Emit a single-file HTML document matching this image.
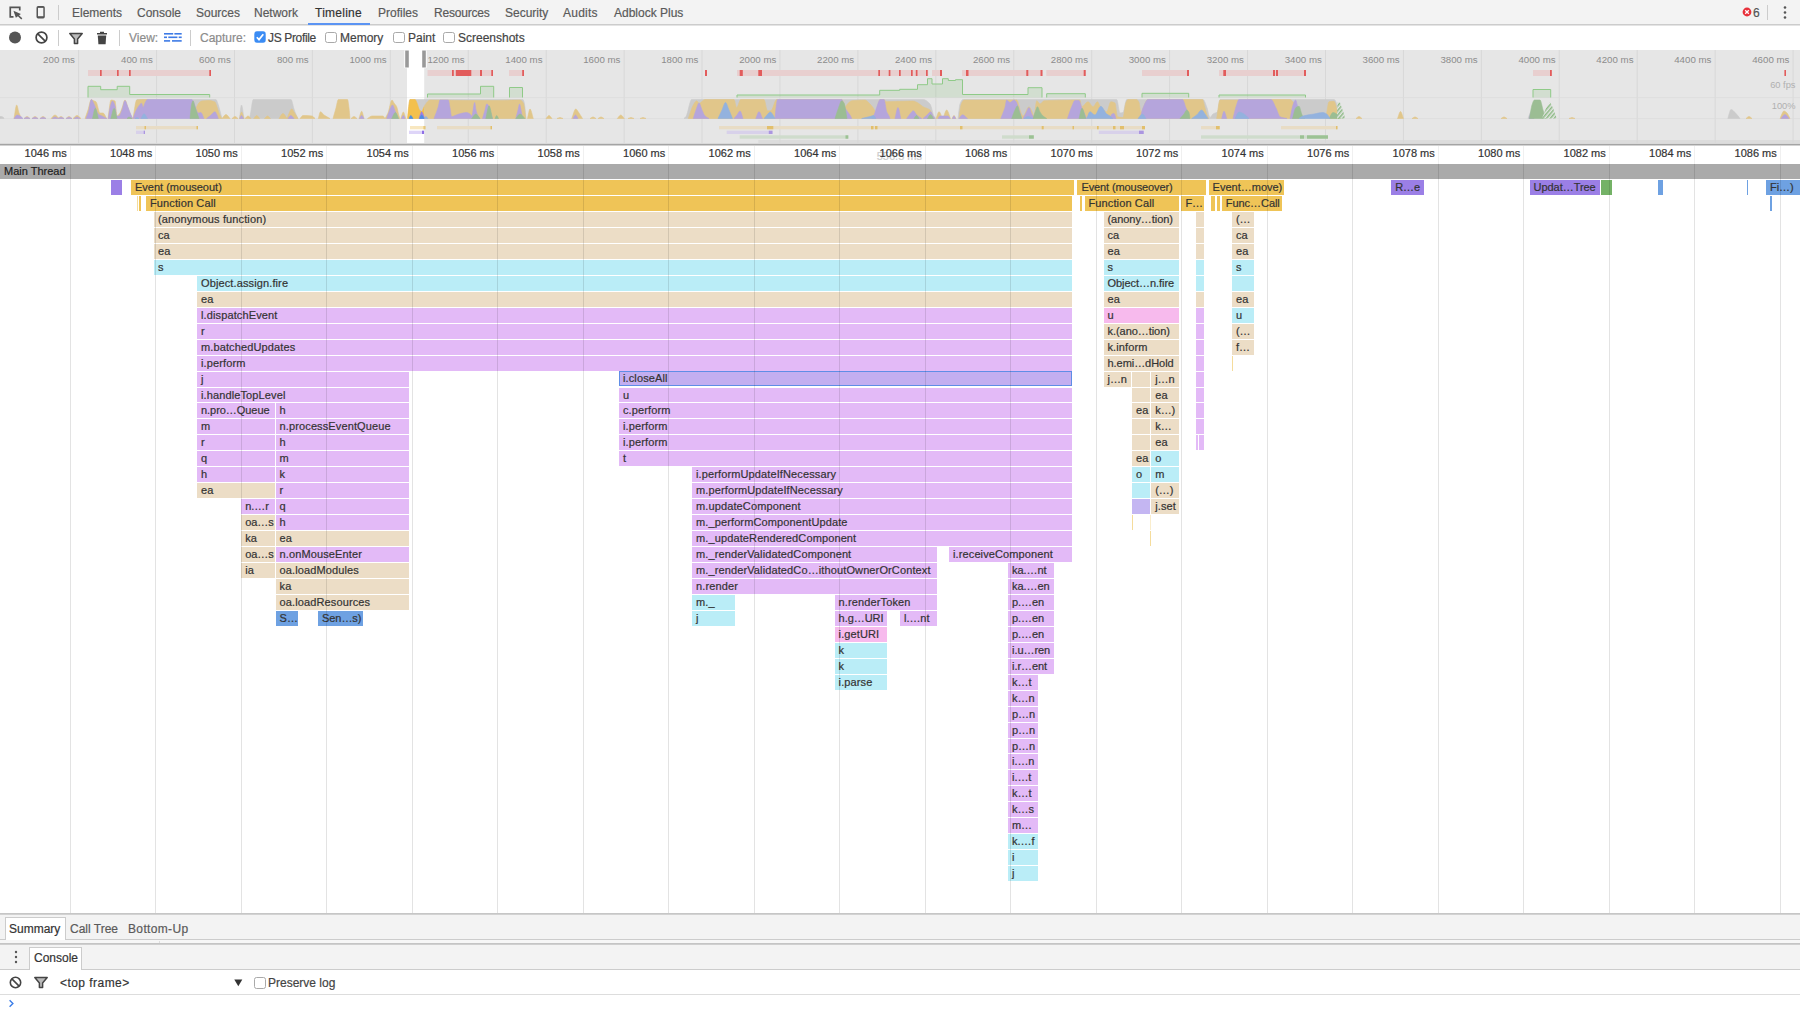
<!DOCTYPE html>
<html><head><meta charset="utf-8"><title>Timeline</title>
<style>
html,body{margin:0;padding:0;}
body{-webkit-text-stroke:0.2px;width:1800px;height:1013px;position:relative;overflow:hidden;background:#fff;font-family:"Liberation Sans",sans-serif;font-size:12px;color:#5a5a5a;}
.abs,.b,.gl,.tl,.t{position:absolute;}
#tabbar{left:0;top:0;width:1800px;height:24px;background:#f3f3f3;border-bottom:1px solid #ccc;}
.t{top:6px;line-height:15px;white-space:nowrap;color:#5a5a5a;}
#toolbar{left:0;top:25px;width:1800px;height:25px;background:#fff;box-shadow:inset 0 1px 0 #e4e4e4;}
.sep{position:absolute;width:1px;background:#ccc;}
#ov{position:absolute;left:0;top:50px;}
.ol{font:9.7px "Liberation Sans",sans-serif;fill:#8c8c8c;}
.ol2{font:9.3px "Liberation Sans",sans-serif;fill:#b0b0b0;}
#ovb{left:0;top:144px;width:1800px;height:1px;background:#a4a4a4;box-shadow:0 -1px 0 #d9d9d9,0 1px 0 #d2d2d2;z-index:3;}
#ruler{left:0;top:145px;width:1800px;height:19px;background:#fff;}
.tl{top:147px;width:60px;text-align:right;font-size:11px;line-height:13px;color:#333;white-space:nowrap;}
#mt{left:0;top:164px;width:1800px;height:14.5px;background:#aaa;color:#222;font-size:11px;line-height:15px;}
.gl{top:146px;width:1px;height:767px;background:linear-gradient(rgba(0,0,0,0.06) 0,rgba(0,0,0,0.06) 18px,rgba(0,0,0,0.11) 18px);}
.b{height:14.955px;font-size:11px;line-height:14.9px;color:#333;white-space:nowrap;overflow:hidden;box-sizing:border-box;padding-left:4px;letter-spacing:0.12px;}
.b.e{padding:0;}
.b.sel{background:#c3aef0;border:1px solid #5f8de6;line-height:13.4px;padding-left:3px;height:15.4px;margin-top:-0.56px;}
#fcend{left:0;top:913px;width:1800px;height:1px;background:#c6c6c6;box-shadow:0 1px 0 #d2d2d2;}
#btabs{left:0;top:915px;width:1800px;height:24px;background:#f3f3f3;border-bottom:1px solid #ccc;}
#drawer{left:0;top:945px;width:1800px;height:24px;background:#f3f3f3;border-bottom:1px solid #ccc;box-shadow:0 -1px 0 #cfcfcf,0 -2px 0 #c4c4c4;}
.tab{position:absolute;background:#fff;border:1px solid #ccc;border-bottom:none;box-sizing:border-box;color:#333;}
#ctool{left:0;top:970px;width:1800px;height:24px;background:#fff;border-bottom:1px solid #ddd;}
.cb{position:absolute;width:9.5px;height:9.5px;border:1px solid #a9a9a9;border-radius:2.5px;background:#fff;box-sizing:content-box;}
</style></head><body>
<div id="tabbar" class="abs">
<svg class="abs" style="left:8px;top:5px" width="16" height="16" viewBox="0 0 16 16"><path d="M11.75 5.6V2.35H2.25V11.85H5.5" fill="none" stroke="#555" stroke-width="1.7"/><path d="M5.4 5.8L12.9 9.1L7.9 12.7Z" fill="#555"/><path d="M9.6 10L13.8 13.9" stroke="#555" stroke-width="1.5"/></svg>
<svg class="abs" style="left:34px;top:5px" width="14" height="16" viewBox="0 0 14 16"><rect x="2.5" y="1.1" width="8.3" height="12.3" rx="1.6" fill="#555"/><rect x="4" y="2.9" width="5.3" height="8.3" fill="#f3f3f3"/></svg>
<div class="sep" style="left:58px;top:5px;height:15px"></div>
<span class="t" style="left:72px">Elements</span>
<span class="t" style="left:137px">Console</span>
<span class="t" style="left:196px">Sources</span>
<span class="t" style="left:254px">Network</span>
<span class="t" style="left:315px;color:#333;letter-spacing:0.25px">Timeline</span>
<span class="t" style="left:378px">Profiles</span>
<span class="t" style="left:434px;letter-spacing:-0.2px">Resources</span>
<span class="t" style="left:505px">Security</span>
<span class="t" style="left:563px;letter-spacing:0.25px">Audits</span>
<span class="t" style="left:614px">Adblock Plus</span>
<div class="abs" style="left:308px;top:22.5px;width:62px;height:2px;background:#5b94f3"></div>
<svg class="abs" style="left:1741.6px;top:7.1px" width="10" height="10" viewBox="0 0 10 10"><circle cx="5" cy="5" r="4.4" fill="#e8303a"/><path d="M3.2 3.2L6.8 6.8M6.8 3.2L3.2 6.8" stroke="#fff" stroke-width="1.3"/></svg>
<span class="t" style="left:1753px;color:#555">6</span>
<div class="sep" style="left:1767px;top:5px;height:15px"></div>
<svg class="abs" style="left:1782px;top:5px" width="6" height="15" viewBox="0 0 6 15"><circle cx="3" cy="2.5" r="1.3" fill="#555"/><circle cx="3" cy="7.5" r="1.3" fill="#555"/><circle cx="3" cy="12.5" r="1.3" fill="#555"/></svg>
</div>
<div id="toolbar" class="abs">
<svg class="abs" style="left:8px;top:5px" width="14" height="15" viewBox="0 0 14 15"><circle cx="7" cy="7.5" r="6" fill="#555"/></svg>
<svg class="abs" style="left:34.2px;top:5.4px" width="15" height="15" viewBox="0 0 15 15"><circle cx="7.5" cy="7.5" r="5.4" fill="none" stroke="#444" stroke-width="1.7"/><path d="M3.8 3.8L11.2 11.2" stroke="#444" stroke-width="1.7"/></svg>
<div class="sep" style="left:58px;top:5px;height:16px"></div>
<svg class="abs" style="left:68px;top:7px" width="16" height="13" viewBox="0 0 16 13"><path d="M1.8 1.6H14.2L9.6 7V11.4H6.4V7Z" fill="#bbb" stroke="#444" stroke-width="1.5" stroke-linejoin="round"/></svg>
<svg class="abs" style="left:96px;top:5.7px" width="12" height="14" viewBox="0 0 12 14"><path d="M4 0.8H8V2H11V3.6H1V2H4Z" fill="#444"/><path d="M1.8 4.6H10.2L9.6 13.2H2.4Z" fill="#444"/></svg>
<div class="sep" style="left:119px;top:5px;height:16px"></div>
<span class="t" style="left:129px;top:6px;color:#8c8c8c">View:</span>
<svg class="abs" style="left:164px;top:7px" width="19" height="11" viewBox="0 0 19 11"><g fill="#3e7be6"><rect x="0" y="1" width="9.2" height="1.6"/><rect x="10.4" y="1" width="7.3" height="1.6"/><rect x="0" y="4.5" width="3" height="1.6"/><rect x="4.3" y="4.5" width="9.1" height="1.6"/><rect x="14.7" y="4.5" width="3" height="1.6"/><rect x="0" y="8.1" width="6.1" height="1.6"/><rect x="8" y="8.1" width="9.7" height="1.6"/></g></svg>
<div class="sep" style="left:190px;top:5px;height:16px"></div>
<span class="t" style="left:200px;top:6px;color:#8c8c8c">Capture:</span>
<svg class="abs" style="left:253.6px;top:6.2px" width="12" height="12" viewBox="0 0 12 12"><rect x="0.3" y="0.3" width="11.4" height="11.4" rx="2.6" fill="#3b8cf4"/><path d="M2.8 6.2L5 8.6L9.3 3.2" fill="none" stroke="#fff" stroke-width="1.7"/></svg>
<span class="t" style="left:268px;top:6px;color:#444;letter-spacing:-0.35px">JS Profile</span>
<div class="cb" style="left:325px;top:6.6px"></div><span class="t" style="left:340px;top:6px;color:#444">Memory</span>
<div class="cb" style="left:393px;top:6.6px"></div><span class="t" style="left:408px;top:6px;color:#444">Paint</span>
<div class="cb" style="left:443.3px;top:6.6px"></div><span class="t" style="left:458px;top:6px;color:#444">Screenshots</span>
</div>
<svg id="ov" width="1800" height="94" viewBox="0 50 1800 94"><defs><pattern id="hatch" width="3" height="3" patternUnits="userSpaceOnUse" patternTransform="rotate(-50)"><rect width="3" height="3" fill="#e6e6e6"/><rect width="3" height="1.5" fill="#8dbb85"/></pattern><clipPath id="cw"><rect x="407.0" y="50" width="17.2" height="94"/></clipPath></defs><rect x="0" y="50" width="1800" height="94" fill="#e6e6e6"/><rect x="758.3" y="140" width="1042" height="3.3" fill="#dcdcdc"/><rect x="407.0" y="50" width="17.2" height="94" fill="#fff"/><rect x="78.10" y="50" width="1" height="94" fill="#d8d8d8"/><rect x="156.03" y="50" width="1" height="94" fill="#d8d8d8"/><rect x="233.96" y="50" width="1" height="94" fill="#d8d8d8"/><rect x="311.89" y="50" width="1" height="94" fill="#d8d8d8"/><rect x="389.82" y="50" width="1" height="94" fill="#d8d8d8"/><rect x="467.75" y="50" width="1" height="94" fill="#d8d8d8"/><rect x="545.68" y="50" width="1" height="94" fill="#d8d8d8"/><rect x="623.61" y="50" width="1" height="94" fill="#d8d8d8"/><rect x="701.54" y="50" width="1" height="94" fill="#d8d8d8"/><rect x="779.47" y="50" width="1" height="94" fill="#d8d8d8"/><rect x="857.40" y="50" width="1" height="94" fill="#d8d8d8"/><rect x="935.33" y="50" width="1" height="94" fill="#d8d8d8"/><rect x="1013.26" y="50" width="1" height="94" fill="#d8d8d8"/><rect x="1091.19" y="50" width="1" height="94" fill="#d8d8d8"/><rect x="1169.12" y="50" width="1" height="94" fill="#d8d8d8"/><rect x="1247.05" y="50" width="1" height="94" fill="#d8d8d8"/><rect x="1324.98" y="50" width="1" height="94" fill="#d8d8d8"/><rect x="1402.91" y="50" width="1" height="94" fill="#d8d8d8"/><rect x="1480.84" y="50" width="1" height="94" fill="#d8d8d8"/><rect x="1558.77" y="50" width="1" height="94" fill="#d8d8d8"/><rect x="1636.70" y="50" width="1" height="94" fill="#d8d8d8"/><rect x="1714.63" y="50" width="1" height="94" fill="#d8d8d8"/><rect x="1792.56" y="50" width="1" height="94" fill="#d8d8d8"/><rect x="0" y="97.3" width="1800" height="0.8" fill="#dcdcdc"/><rect x="0" y="118.3" width="1800" height="0.8" fill="#dcdcdc"/><text x="74.9" y="63" text-anchor="end" class="ol">200 ms</text><text x="152.8" y="63" text-anchor="end" class="ol">400 ms</text><text x="230.8" y="63" text-anchor="end" class="ol">600 ms</text><text x="308.7" y="63" text-anchor="end" class="ol">800 ms</text><text x="386.6" y="63" text-anchor="end" class="ol">1000 ms</text><text x="464.6" y="63" text-anchor="end" class="ol">1200 ms</text><text x="542.5" y="63" text-anchor="end" class="ol">1400 ms</text><text x="620.4" y="63" text-anchor="end" class="ol">1600 ms</text><text x="698.3" y="63" text-anchor="end" class="ol">1800 ms</text><text x="776.3" y="63" text-anchor="end" class="ol">2000 ms</text><text x="854.2" y="63" text-anchor="end" class="ol">2200 ms</text><text x="932.1" y="63" text-anchor="end" class="ol">2400 ms</text><text x="1010.1" y="63" text-anchor="end" class="ol">2600 ms</text><text x="1088.0" y="63" text-anchor="end" class="ol">2800 ms</text><text x="1165.9" y="63" text-anchor="end" class="ol">3000 ms</text><text x="1243.9" y="63" text-anchor="end" class="ol">3200 ms</text><text x="1321.8" y="63" text-anchor="end" class="ol">3400 ms</text><text x="1399.7" y="63" text-anchor="end" class="ol">3600 ms</text><text x="1477.6" y="63" text-anchor="end" class="ol">3800 ms</text><text x="1555.6" y="63" text-anchor="end" class="ol">4000 ms</text><text x="1633.5" y="63" text-anchor="end" class="ol">4200 ms</text><text x="1711.4" y="63" text-anchor="end" class="ol">4400 ms</text><text x="1789.4" y="63" text-anchor="end" class="ol">4600 ms</text><text x="1795.5" y="88" text-anchor="end" class="ol2">60 fps</text><text x="1795.5" y="109" text-anchor="end" class="ol2">100%</text><rect x="88.0" y="70.0" width="123.0" height="6.0" fill="#e8cfcf"/><rect x="427.5" y="70.0" width="65.5" height="6.0" fill="#e8cfcf"/><rect x="509.0" y="70.0" width="15.0" height="6.0" fill="#e8cfcf"/><rect x="737.0" y="70.0" width="191.3" height="6.0" fill="#e8cfcf"/><rect x="932.0" y="70.0" width="10.0" height="6.0" fill="#e8cfcf"/><rect x="962.0" y="70.0" width="80.5" height="6.0" fill="#e8cfcf"/><rect x="1046.3" y="70.0" width="39.4" height="6.0" fill="#e8cfcf"/><rect x="1142.0" y="70.0" width="47.0" height="6.0" fill="#e8cfcf"/><rect x="1219.0" y="70.0" width="87.0" height="6.0" fill="#e8cfcf"/><rect x="1533.0" y="70.0" width="18.8" height="6.0" fill="#e8cfcf"/><rect x="100.0" y="70.0" width="1.7" height="6.0" fill="#e25c5c"/><rect x="117.0" y="70.0" width="1.7" height="6.0" fill="#e25c5c"/><rect x="129.0" y="70.0" width="1.7" height="6.0" fill="#e25c5c"/><rect x="209.3" y="70.0" width="1.7" height="6.0" fill="#e25c5c"/><rect x="452.0" y="70.0" width="1.8" height="6.0" fill="#e25c5c"/><rect x="455.8" y="70.0" width="15.5" height="6.0" fill="#e25c5c"/><rect x="480.0" y="70.0" width="2.0" height="6.0" fill="#e25c5c"/><rect x="491.3" y="70.0" width="1.7" height="6.0" fill="#e25c5c"/><rect x="522.2" y="70.0" width="1.8" height="6.0" fill="#e25c5c"/><rect x="705.0" y="70.0" width="2.0" height="6.0" fill="#e25c5c"/><rect x="739.7" y="70.0" width="3.1" height="6.0" fill="#e25c5c"/><rect x="758.3" y="70.0" width="3.7" height="6.0" fill="#e25c5c"/><rect x="878.3" y="70.0" width="1.7" height="6.0" fill="#e25c5c"/><rect x="888.7" y="70.0" width="1.7" height="6.0" fill="#e25c5c"/><rect x="899.0" y="70.0" width="1.7" height="6.0" fill="#e25c5c"/><rect x="911.0" y="70.0" width="1.7" height="6.0" fill="#e25c5c"/><rect x="915.8" y="70.0" width="1.7" height="6.0" fill="#e25c5c"/><rect x="926.0" y="70.0" width="1.7" height="6.0" fill="#e25c5c"/><rect x="940.0" y="70.0" width="2.0" height="6.0" fill="#e25c5c"/><rect x="966.0" y="70.0" width="2.5" height="6.0" fill="#e25c5c"/><rect x="1026.3" y="70.0" width="2.0" height="6.0" fill="#e25c5c"/><rect x="1040.5" y="70.0" width="2.0" height="6.0" fill="#e25c5c"/><rect x="1083.7" y="70.0" width="2.0" height="6.0" fill="#e25c5c"/><rect x="1187.0" y="70.0" width="2.0" height="6.0" fill="#e25c5c"/><rect x="1223.3" y="70.0" width="2.7" height="6.0" fill="#e25c5c"/><rect x="1273.0" y="70.0" width="2.0" height="6.0" fill="#e25c5c"/><rect x="1276.0" y="70.0" width="2.0" height="6.0" fill="#e25c5c"/><rect x="1304.0" y="70.0" width="2.0" height="6.0" fill="#e25c5c"/><rect x="1550.0" y="70.0" width="1.8" height="6.0" fill="#e25c5c"/><rect x="1784.4" y="70.0" width="1.6" height="6.0" fill="#e25c5c"/><path d="M88,97.5V86.3H100.7V89.7H117.2V86.3H129.7V94.5H209.7V97.5" fill="rgba(120,190,110,0.18)" stroke="#8fca88" stroke-width="1"/><path d="M427.5,97.5V94H480.5V86.3H493.7V97.5" fill="rgba(120,190,110,0.18)" stroke="#8fca88" stroke-width="1"/><path d="M509.5,97.5V87.5H522.5V97.5" fill="rgba(120,190,110,0.18)" stroke="#8fca88" stroke-width="1"/><path d="M737,97.5V95H879.7V90.3H899.7V89.3H917.5V84.7H927.5V78.7H932V84H942.5V78.7H948.3V80.5H955.5V79.7H962.5V94.5H1028V87.7H1042V97.5" fill="rgba(120,190,110,0.18)" stroke="#8fca88" stroke-width="1"/><path d="M1046.7,97.5V93.7H1085.3V97.5" fill="rgba(120,190,110,0.18)" stroke="#8fca88" stroke-width="1"/><path d="M1142,97.5V93.3H1188.7V97.5" fill="rgba(120,190,110,0.18)" stroke="#8fca88" stroke-width="1"/><path d="M1219,97.5V95H1305.5V97.5" fill="rgba(120,190,110,0.18)" stroke="#8fca88" stroke-width="1"/><path d="M1533,97.5V89.5H1550.7V97.5" fill="rgba(120,190,110,0.18)" stroke="#8fca88" stroke-width="1"/><path d="M0.00,118.50C0.02,117.83 0.03,116.50 0.05,116.50C1.03,116.50 2.02,116.66 3.00,117.00C3.33,117.12 3.67,118.00 4.00,118.50ZM135.00,118.50C135.67,112.17 136.33,99.50 137.00,99.50C163.33,99.50 189.67,99.50 216.00,99.50C216.67,99.50 217.33,102.20 218.00,104.00C219.33,107.61 220.67,113.67 222.00,118.50ZM239.50,118.50C240.17,114.00 240.83,105.00 241.50,105.00C242.33,105.00 243.17,114.00 244.00,118.50ZM249.00,118.50C249.33,117.67 249.67,117.05 250.00,116.00C251.10,112.54 252.20,99.50 253.30,99.50C265.87,99.50 278.43,99.50 291.00,99.50C292.00,99.50 293.00,106.15 294.00,109.00C294.90,111.56 295.80,114.05 296.70,116.00C297.13,116.94 297.57,117.67 298.00,118.50ZM408.00,118.50C408.67,112.17 409.33,99.50 410.00,99.50C447.67,99.50 485.33,99.50 523.00,99.50C523.50,99.50 524.00,101.71 524.50,104.00C525.00,106.29 525.50,113.67 526.00,118.50ZM684.00,118.50C684.67,117.83 685.33,117.42 686.00,116.50C687.90,113.86 689.80,99.50 691.70,99.50C768.80,99.50 845.90,99.50 923.00,99.50C925.33,99.50 927.67,101.38 930.00,104.00C931.33,105.50 932.67,113.75 934.00,116.00C934.67,117.12 935.33,117.67 936.00,118.50ZM958.00,118.50C958.67,113.67 959.33,105.73 960.00,104.00C961.00,101.40 962.00,99.50 963.00,99.50C1014.23,99.50 1065.47,99.50 1116.70,99.50C1117.80,99.50 1118.90,113.00 1120.00,113.00C1121.00,113.00 1122.00,112.81 1123.00,112.50C1124.23,112.12 1125.47,99.50 1126.70,99.50C1152.13,99.50 1177.57,99.50 1203.00,99.50C1204.23,99.50 1205.47,103.68 1206.70,106.70C1207.80,109.40 1208.90,117.50 1210.00,117.50C1211.00,117.50 1212.00,114.73 1213.00,114.00C1214.50,112.91 1216.00,113.20 1217.50,111.70C1218.33,110.86 1219.17,99.50 1220.00,99.50C1258.00,99.50 1296.00,99.50 1334.00,99.50C1334.90,99.50 1335.80,101.14 1336.70,104.00C1337.13,105.38 1337.57,113.67 1338.00,118.50ZM1727.80,118.50C1728.87,115.50 1729.93,109.50 1731.00,109.50C1732.50,109.50 1734.00,111.57 1735.50,113.00C1737.00,114.43 1738.50,116.67 1740.00,118.50ZM1528.00,118.50C1529.00,116.33 1530.00,112.00 1531.00,112.00C1532.00,112.00 1533.00,116.33 1534.00,118.50Z" fill="#cbcbcb" stroke="#cbcbcb" stroke-width="0.6" stroke-linejoin="round"/><path d="M14.00,118.50C14.90,114.00 15.80,105.00 16.70,105.00C17.47,105.00 18.23,111.02 19.00,113.00C19.90,115.33 20.80,116.67 21.70,118.50ZM24.00,118.50C25.00,117.83 26.00,116.50 27.00,116.50C28.00,116.50 29.00,117.83 30.00,118.50ZM32.00,118.50C33.00,117.83 34.00,116.50 35.00,116.50C36.00,116.50 37.00,117.83 38.00,118.50ZM40.00,118.50C41.00,117.83 42.00,116.50 43.00,116.50C44.00,116.50 45.00,117.83 46.00,118.50ZM51.00,118.50C52.33,117.33 53.67,115.00 55.00,115.00C56.33,115.00 57.67,117.33 59.00,118.50ZM58.00,118.50C59.00,117.83 60.00,116.50 61.00,116.50C62.00,116.50 63.00,117.83 64.00,118.50ZM66.00,118.50C67.00,117.83 68.00,116.50 69.00,116.50C70.00,116.50 71.00,117.83 72.00,118.50ZM73.00,118.50C74.33,117.50 75.67,115.50 77.00,115.50C78.33,115.50 79.67,117.50 81.00,118.50ZM85.00,118.50C86.00,115.67 87.00,112.99 88.00,110.00C89.10,106.71 90.20,99.50 91.30,99.50C91.87,99.50 92.43,100.23 93.00,100.50C94.00,100.98 95.00,101.02 96.00,101.70C97.33,102.60 98.67,113.00 100.00,113.00C101.00,113.00 102.00,113.00 103.00,113.00C104.23,113.00 105.47,116.67 106.70,118.50ZM108.00,118.50C109.00,112.33 110.00,100.00 111.00,100.00C112.33,100.00 113.67,100.28 115.00,101.00C115.67,101.36 116.33,116.00 117.00,116.00C118.00,116.00 119.00,114.47 120.00,113.00C120.67,112.02 121.33,109.72 122.00,108.00C123.00,105.42 124.00,100.00 125.00,100.00C126.00,100.00 127.00,105.45 128.00,108.00C129.23,111.14 130.47,115.17 131.70,117.00C132.13,117.64 132.57,118.00 133.00,118.50ZM133.00,118.50C134.23,112.33 135.47,100.14 136.70,100.00C140.13,99.61 143.57,99.50 147.00,99.50C147.33,99.50 147.67,112.17 148.00,118.50ZM195.00,118.50C195.57,114.57 196.13,107.96 196.70,106.70C198.37,103.00 200.03,101.26 201.70,101.00C203.80,100.68 205.90,100.50 208.00,100.50C210.33,100.50 212.67,100.90 215.00,102.00C215.57,102.27 216.13,104.51 216.70,106.00C217.47,108.02 218.23,111.12 219.00,113.00C219.90,115.21 220.80,116.67 221.70,118.50ZM222.00,118.50C223.33,117.17 224.67,114.50 226.00,114.50C227.33,114.50 228.67,117.17 230.00,118.50ZM232.00,118.50C233.00,117.83 234.00,116.50 235.00,116.50C236.00,116.50 237.00,117.83 238.00,118.50ZM239.50,118.50C240.17,116.33 240.83,112.00 241.50,112.00C242.33,112.00 243.17,116.33 244.00,118.50ZM245.00,118.50C246.00,117.67 247.00,116.00 248.00,116.00C249.00,116.00 250.00,117.67 251.00,118.50ZM253.70,118.50C254.70,117.50 255.70,115.50 256.70,115.50C257.70,115.50 258.70,117.50 259.70,118.50ZM264.50,118.50C265.50,117.67 266.50,116.00 267.50,116.00C268.50,116.00 269.50,117.67 270.50,118.50ZM279.00,118.50C280.33,116.83 281.67,113.50 283.00,113.50C284.33,113.50 285.67,116.83 287.00,118.50ZM287.00,118.50C288.57,115.33 290.13,109.00 291.70,109.00C292.47,109.00 293.23,110.90 294.00,112.00C295.33,113.91 296.67,116.33 298.00,118.50ZM300.00,118.50C301.00,117.50 302.00,115.50 303.00,115.50C306.00,115.50 309.00,115.63 312.00,116.00C313.00,116.12 314.00,117.67 315.00,118.50ZM318.30,118.50C319.03,116.23 319.77,111.70 320.50,111.70C321.67,111.70 322.83,114.14 324.00,115.00C326.00,116.47 328.00,117.33 330.00,118.50ZM333.00,118.50C334.00,115.00 335.00,111.60 336.00,108.00C336.77,105.24 337.53,99.50 338.30,99.50C341.37,99.50 344.43,99.50 347.50,99.50C348.00,99.50 348.50,104.24 349.00,108.00C349.33,110.50 349.67,115.00 350.00,118.50ZM351.00,118.50C352.00,117.83 353.00,116.50 354.00,116.50C355.00,116.50 356.00,117.83 357.00,118.50ZM359.00,118.50C359.90,116.10 360.80,111.30 361.70,111.30C362.47,111.30 363.23,116.10 364.00,118.50ZM367.50,118.50C369.00,117.67 370.50,116.00 372.00,116.00C375.67,116.00 379.33,116.00 383.00,116.00C383.67,116.00 384.33,117.67 385.00,118.50ZM385.00,118.50C386.00,116.67 387.00,115.31 388.00,113.00C389.33,109.92 390.67,100.00 392.00,100.00C392.67,100.00 393.33,102.04 394.00,103.00C394.90,104.29 395.80,104.83 396.70,106.70C397.47,108.29 398.23,113.70 399.00,116.00C399.33,117.00 399.67,117.67 400.00,118.50ZM400.80,118.50C401.63,116.33 402.47,112.00 403.30,112.00C404.13,112.00 404.97,116.33 405.80,118.50ZM407.50,118.50C407.83,115.00 408.17,110.50 408.50,108.00C409.00,104.24 409.50,99.50 410.00,99.50C411.67,99.50 413.33,99.50 415.00,99.50C415.67,99.50 416.33,101.58 417.00,103.00C417.83,104.78 418.67,109.03 419.50,110.00C420.17,110.77 420.83,111.50 421.50,111.50C422.50,111.50 423.50,107.61 424.50,106.00C425.50,104.39 426.50,102.61 427.50,101.70C428.33,100.94 429.17,100.00 430.00,100.00C442.67,100.00 455.33,100.50 468.00,100.50C477.00,100.50 486.00,100.50 495.00,100.50C503.33,100.50 511.67,100.00 520.00,100.00C521.10,100.00 522.20,101.19 523.30,103.00C524.13,104.37 524.97,113.33 525.80,118.50ZM527.50,118.50C528.33,115.33 529.17,109.00 530.00,109.00C531.10,109.00 532.20,115.33 533.30,118.50ZM546.00,118.50C547.00,117.50 548.00,115.50 549.00,115.50C550.00,115.50 551.00,117.50 552.00,118.50ZM557.00,118.50C558.00,118.17 559.00,117.50 560.00,117.50C561.00,117.50 562.00,118.17 563.00,118.50ZM571.70,118.50C573.07,115.33 574.43,109.00 575.80,109.00C576.87,109.00 577.93,111.52 579.00,113.00C580.17,114.62 581.33,116.67 582.50,118.50ZM590.00,118.50C591.00,118.00 592.00,117.00 593.00,117.00C594.00,117.00 595.00,118.00 596.00,118.50ZM598.00,118.50C599.00,118.00 600.00,117.00 601.00,117.00C602.00,117.00 603.00,118.00 604.00,118.50ZM617.30,118.50C618.47,117.33 619.63,115.00 620.80,115.00C621.97,115.00 623.13,117.33 624.30,118.50ZM628.00,118.50C629.00,118.17 630.00,117.50 631.00,117.50C632.00,117.50 633.00,118.17 634.00,118.50ZM640.00,118.50C641.00,118.17 642.00,117.50 643.00,117.50C644.00,117.50 645.00,118.17 646.00,118.50ZM688.30,118.50C689.97,114.00 691.63,107.76 693.30,105.00C694.43,103.12 695.57,100.80 696.70,100.80C697.47,100.80 698.23,103.30 699.00,103.30C701.00,103.30 703.00,99.50 705.00,99.50C714.67,99.50 724.33,99.50 734.00,99.50C734.90,99.50 735.80,107.50 736.70,107.50C738.07,107.50 739.43,99.50 740.80,99.50C748.53,99.50 756.27,99.50 764.00,99.50C765.17,99.50 766.33,110.80 767.50,110.80C768.60,110.80 769.70,110.80 770.80,110.80C772.77,110.80 774.73,99.50 776.70,99.50C798.37,99.50 820.03,99.50 841.70,99.50C843.07,99.50 844.43,106.70 845.80,106.70C846.10,106.70 846.40,105.38 846.70,105.00C848.37,102.87 850.03,101.02 851.70,100.80C856.13,100.23 860.57,100.00 865.00,100.00C866.33,100.00 867.67,101.80 869.00,103.00C870.33,104.20 871.67,105.83 873.00,107.50C874.00,108.75 875.00,111.70 876.00,111.70C876.67,111.70 877.33,107.01 878.00,105.00C878.67,102.99 879.33,99.50 880.00,99.50C881.33,99.50 882.67,99.50 884.00,99.50C884.67,99.50 885.33,101.70 886.00,101.70C895.00,101.70 904.00,101.00 913.00,101.00C914.67,101.00 916.33,102.13 918.00,103.00C919.67,103.87 921.33,105.73 923.00,106.70C925.33,108.06 927.67,108.01 930.00,110.00C931.00,110.85 932.00,115.45 933.00,116.70C933.67,117.53 934.33,117.90 935.00,118.50ZM936.00,118.50C937.00,116.23 938.00,111.70 939.00,111.70C940.17,111.70 941.33,116.23 942.50,118.50ZM943.00,118.50C944.23,115.67 945.47,110.00 946.70,110.00C947.97,110.00 949.23,115.67 950.50,118.50ZM952.00,118.50C952.67,117.50 953.33,115.50 954.00,115.50C954.67,115.50 955.33,117.50 956.00,118.50ZM959.00,118.50C959.67,114.00 960.33,106.86 961.00,105.00C962.00,102.21 963.00,100.00 964.00,100.00C981.57,100.00 999.13,100.00 1016.70,100.00C1018.13,100.00 1019.57,109.46 1021.00,112.50C1021.67,113.91 1022.33,116.00 1023.00,116.00C1025.00,116.00 1027.00,106.70 1029.00,106.70C1029.90,106.70 1030.80,109.16 1031.70,110.80C1032.47,112.20 1033.23,116.00 1034.00,116.00C1034.90,116.00 1035.80,100.80 1036.70,100.80C1037.80,100.80 1038.90,104.00 1040.00,104.00C1041.33,104.00 1042.67,100.90 1044.00,100.80C1053.23,100.13 1062.47,100.00 1071.70,100.00C1074.47,100.00 1077.23,100.00 1080.00,100.00C1080.57,100.00 1081.13,106.70 1081.70,106.70C1083.80,106.70 1085.90,101.70 1088.00,101.70C1089.67,101.70 1091.33,106.70 1093.00,106.70C1094.50,106.70 1096.00,101.70 1097.50,101.70C1098.33,101.70 1099.17,104.80 1100.00,105.80C1102.23,108.48 1104.47,111.70 1106.70,111.70C1108.07,111.70 1109.43,101.70 1110.80,101.70C1112.20,101.70 1113.60,102.11 1115.00,103.00C1115.83,103.53 1116.67,116.43 1117.50,116.70C1119.33,117.29 1121.17,117.50 1123.00,117.50C1123.93,117.50 1124.87,105.22 1125.80,103.00C1126.53,101.25 1127.27,99.50 1128.00,99.50C1130.90,99.50 1133.80,99.50 1136.70,99.50C1137.47,99.50 1138.23,100.89 1139.00,102.50C1139.67,103.90 1140.33,112.50 1141.00,112.50C1141.67,112.50 1142.33,109.32 1143.00,108.00C1144.67,104.71 1146.33,99.50 1148.00,99.50C1166.17,99.50 1184.33,99.50 1202.50,99.50C1203.33,99.50 1204.17,105.26 1205.00,108.00C1206.00,111.28 1207.00,116.10 1208.00,117.50C1208.33,117.97 1208.67,118.17 1209.00,118.50ZM1216.70,118.50C1217.80,112.33 1218.90,100.00 1220.00,100.00C1226.00,100.00 1232.00,100.00 1238.00,100.00C1249.00,100.00 1260.00,99.50 1271.00,99.50C1277.33,99.50 1283.67,99.50 1290.00,99.50C1291.33,99.50 1292.67,101.45 1294.00,103.00C1295.00,104.16 1296.00,105.38 1297.00,108.00C1297.67,109.75 1298.33,115.00 1299.00,118.50ZM1325.00,118.50C1325.33,117.67 1325.67,117.04 1326.00,116.00C1327.00,112.88 1328.00,101.87 1329.00,101.70C1330.67,101.41 1332.33,101.30 1334.00,101.30C1335.33,101.30 1336.67,110.03 1338.00,113.00C1339.00,115.23 1340.00,116.67 1341.00,118.50ZM1356.00,118.50C1357.00,117.83 1358.00,116.50 1359.00,116.50C1360.00,116.50 1361.00,117.83 1362.00,118.50ZM1397.50,118.50C1398.50,116.17 1399.50,111.50 1400.50,111.50C1401.50,111.50 1402.50,116.17 1403.50,118.50ZM1412.00,118.50C1413.00,118.00 1414.00,117.00 1415.00,117.00C1416.00,117.00 1417.00,118.00 1418.00,118.50ZM1501.00,118.50C1502.00,118.00 1503.00,117.00 1504.00,117.00C1505.00,117.00 1506.00,118.00 1507.00,118.50ZM1569.00,118.50C1570.00,118.17 1571.00,117.50 1572.00,117.50C1573.00,117.50 1574.00,118.17 1575.00,118.50ZM1746.00,118.50C1747.00,117.83 1748.00,116.50 1749.00,116.50C1750.00,116.50 1751.00,117.83 1752.00,118.50ZM1780.00,118.50C1781.33,116.00 1782.67,111.00 1784.00,111.00C1785.00,111.00 1786.00,112.02 1787.00,113.00C1788.00,113.98 1789.00,116.67 1790.00,118.50Z" fill="#e1c68a" stroke="#e1c68a" stroke-width="0.6" stroke-linejoin="round"/><path d="M14.00,118.50C15.00,117.33 16.00,115.00 17.00,115.00C18.00,115.00 19.00,115.52 20.00,116.00C21.00,116.48 22.00,117.67 23.00,118.50ZM24.00,118.50C25.00,118.07 26.00,117.20 27.00,117.20C28.00,117.20 29.00,118.07 30.00,118.50ZM32.00,118.50C33.00,118.07 34.00,117.20 35.00,117.20C36.00,117.20 37.00,118.07 38.00,118.50ZM40.00,118.50C41.00,118.07 42.00,117.20 43.00,117.20C44.00,117.20 45.00,118.07 46.00,118.50ZM52.00,118.50C53.00,118.00 54.00,117.00 55.00,117.00C56.00,117.00 57.00,118.00 58.00,118.50ZM58.00,118.50C59.00,118.07 60.00,117.20 61.00,117.20C62.00,117.20 63.00,118.07 64.00,118.50ZM66.00,118.50C67.00,118.07 68.00,117.20 69.00,117.20C70.00,117.20 71.00,118.07 72.00,118.50ZM74.00,118.50C75.00,118.00 76.00,117.00 77.00,117.00C78.00,117.00 79.00,118.00 80.00,118.50ZM86.00,118.50C86.83,116.33 87.67,114.72 88.50,112.00C89.43,108.95 90.37,99.50 91.30,99.50C92.20,99.50 93.10,102.27 94.00,104.00C95.43,106.75 96.87,112.72 98.30,114.00C99.97,115.48 101.63,115.81 103.30,116.70C104.43,117.31 105.57,117.90 106.70,118.50ZM108.30,118.50C108.87,115.00 109.43,110.24 110.00,108.00C110.83,104.71 111.67,101.00 112.50,101.00C113.33,101.00 114.17,103.43 115.00,106.00C115.57,107.75 116.13,116.00 116.70,116.00C117.47,116.00 118.23,116.00 119.00,116.00C120.00,116.00 121.00,112.45 122.00,110.00C123.00,107.55 124.00,100.50 125.00,100.50C125.83,100.50 126.67,104.01 127.50,106.00C128.33,107.99 129.17,110.42 130.00,112.50C130.83,114.58 131.67,116.50 132.50,118.50ZM133.30,118.50C133.87,116.67 134.43,114.40 135.00,113.00C136.10,110.28 137.20,108.15 138.30,106.70C139.43,105.21 140.57,103.30 141.70,103.30C142.13,103.30 142.57,107.50 143.00,107.50C143.67,107.50 144.33,104.16 145.00,103.00C145.83,101.55 146.67,99.50 147.50,99.50C162.23,99.50 176.97,99.50 191.70,99.50C192.13,99.50 192.57,100.24 193.00,100.80C194.77,103.08 196.53,113.00 198.30,113.00C199.13,113.00 199.97,112.50 200.80,112.50C201.87,112.50 202.93,116.50 204.00,118.50ZM206.70,118.50C208.13,117.33 209.57,116.17 211.00,115.00C212.33,113.91 213.67,111.70 215.00,111.70C215.67,111.70 216.33,113.61 217.00,115.00C217.43,115.90 217.87,117.33 218.30,118.50ZM239.80,118.50C240.37,117.50 240.93,115.50 241.50,115.50C242.17,115.50 242.83,117.50 243.50,118.50ZM288.00,118.50C288.93,117.50 289.87,115.50 290.80,115.50C291.87,115.50 292.93,117.50 294.00,118.50ZM359.50,118.50C360.23,117.50 360.97,115.50 361.70,115.50C362.47,115.50 363.23,117.50 364.00,118.50ZM386.70,118.50C387.47,116.33 388.23,113.82 389.00,112.00C390.17,109.23 391.33,105.00 392.50,105.00C393.33,105.00 394.17,108.86 395.00,110.80C396.10,113.36 397.20,115.93 398.30,118.50ZM401.50,118.50C402.10,117.50 402.70,115.50 403.30,115.50C403.87,115.50 404.43,117.50 405.00,118.50ZM419.00,118.50C419.50,117.00 420.00,115.16 420.50,114.00C420.90,113.07 421.30,111.70 421.70,111.70C422.13,111.70 422.57,113.15 423.00,114.00C423.67,115.31 424.33,117.00 425.00,118.50ZM434.00,118.50C435.43,114.57 436.87,111.46 438.30,106.70C438.87,104.82 439.43,100.00 440.00,100.00C442.77,100.00 445.53,100.00 448.30,100.00C448.87,100.00 449.43,105.22 450.00,108.00C450.57,110.78 451.13,116.70 451.70,116.70C452.80,116.70 453.90,115.91 455.00,115.50C456.33,115.01 457.67,114.35 459.00,114.00C461.57,113.32 464.13,112.50 466.70,112.50C467.80,112.50 468.90,113.24 470.00,114.00C470.57,114.39 471.13,116.00 471.70,116.00C472.70,116.00 473.70,102.50 474.70,102.50C475.13,102.50 475.57,108.16 476.00,110.00C476.50,112.13 477.00,113.98 477.50,115.00C478.33,116.70 479.17,117.33 480.00,118.50ZM482.50,118.50C483.33,115.67 484.17,112.89 485.00,110.00C485.57,108.04 486.13,104.00 486.70,104.00C487.47,104.00 488.23,104.89 489.00,106.00C489.67,106.97 490.33,111.73 491.00,114.00C491.50,115.70 492.00,117.00 492.50,118.50ZM515.80,118.50C516.53,115.67 517.27,112.89 518.00,110.00C518.50,108.03 519.00,104.00 519.50,104.00C520.00,104.00 520.50,107.66 521.00,110.00C521.50,112.34 522.00,115.67 522.50,118.50ZM573.00,118.50C573.83,117.33 574.67,115.00 575.50,115.00C576.33,115.00 577.17,117.33 578.00,118.50ZM1781.00,118.50C1782.33,117.17 1783.67,114.50 1785.00,114.50C1786.33,114.50 1787.67,117.17 1789.00,118.50ZM693.30,118.50C694.20,115.67 695.10,112.42 696.00,110.00C697.00,107.31 698.00,103.00 699.00,103.00C700.00,103.00 701.00,107.85 702.00,110.00C703.00,112.15 704.00,115.02 705.00,116.00C706.33,117.30 707.67,117.67 709.00,118.50ZM734.00,118.50C735.00,117.33 736.00,116.24 737.00,115.00C738.00,113.76 739.00,111.00 740.00,111.00C741.00,111.00 742.00,116.00 743.00,118.50ZM755.80,118.50C756.87,116.23 757.93,111.70 759.00,111.70C760.17,111.70 761.33,116.23 762.50,118.50ZM775.00,118.50C775.33,115.00 775.67,110.50 776.00,108.00C776.50,104.24 777.00,99.50 777.50,99.50C798.90,99.50 820.30,99.50 841.70,99.50C842.47,99.50 843.23,104.16 844.00,105.80C845.00,107.94 846.00,109.49 847.00,111.00C848.00,112.51 849.00,113.35 850.00,115.00C850.57,115.94 851.13,117.33 851.70,118.50ZM872.00,118.50C872.67,117.33 873.33,116.42 874.00,115.00C875.17,112.52 876.33,107.88 877.50,105.00C878.33,102.94 879.17,99.50 880.00,99.50C881.33,99.50 882.67,99.50 884.00,99.50C884.90,99.50 885.80,109.35 886.70,111.70C887.47,113.71 888.23,114.33 889.00,116.00C889.33,116.73 889.67,117.67 890.00,118.50ZM895.00,118.50C896.00,114.83 897.00,107.50 898.00,107.50C898.93,107.50 899.87,114.83 900.80,118.50ZM906.70,118.50C907.80,117.00 908.90,115.25 910.00,114.00C911.10,112.75 912.20,110.80 913.30,110.80C914.43,110.80 915.57,113.97 916.70,115.00C918.37,116.52 920.03,117.33 921.70,118.50ZM923.00,118.50C924.33,117.33 925.67,116.16 927.00,115.00C928.27,113.90 929.53,111.70 930.80,111.70C931.53,111.70 932.27,114.89 933.00,116.00C933.67,117.01 934.33,117.67 935.00,118.50ZM938.00,118.50C938.67,117.67 939.33,116.00 940.00,116.00C942.67,116.00 945.33,116.00 948.00,116.00C948.67,116.00 949.33,117.67 950.00,118.50ZM952.50,118.50C953.00,117.67 953.50,116.00 954.00,116.00C954.50,116.00 955.00,117.67 955.50,118.50ZM959.00,118.50C960.17,117.23 961.33,114.70 962.50,114.70C964.17,114.70 965.83,117.23 967.50,118.50ZM1000.80,118.50C1001.53,116.67 1002.27,114.92 1003.00,113.00C1003.67,111.25 1004.33,109.77 1005.00,107.50C1005.57,105.57 1006.13,100.00 1006.70,100.00C1007.80,100.00 1008.90,102.50 1010.00,102.50C1011.33,102.50 1012.67,100.00 1014.00,100.00C1014.67,100.00 1015.33,100.72 1016.00,101.50C1016.50,102.08 1017.00,103.68 1017.50,105.00C1018.90,108.69 1020.30,114.00 1021.70,118.50ZM1023.00,118.50C1024.00,116.67 1025.00,114.83 1026.00,113.00C1027.00,111.17 1028.00,107.50 1029.00,107.50C1029.90,107.50 1030.80,112.06 1031.70,114.00C1032.47,115.65 1033.23,117.00 1034.00,118.50ZM1067.50,118.50C1068.90,114.57 1070.30,109.83 1071.70,106.70C1072.80,104.24 1073.90,100.50 1075.00,100.50C1076.33,100.50 1077.67,100.50 1079.00,100.50C1079.90,100.50 1080.80,105.34 1081.70,107.50C1083.37,111.50 1085.03,114.83 1086.70,118.50ZM1110.00,118.50C1110.67,117.00 1111.33,114.30 1112.00,114.00C1112.67,113.70 1113.33,113.50 1114.00,113.50C1114.67,113.50 1115.33,116.83 1116.00,118.50ZM1140.00,118.50C1141.00,115.00 1142.00,110.36 1143.00,108.00C1144.67,104.07 1146.33,99.50 1148.00,99.50C1159.50,99.50 1171.00,99.50 1182.50,99.50C1183.67,99.50 1184.83,105.14 1186.00,108.00C1186.50,109.23 1187.00,110.10 1187.50,111.70C1188.00,113.30 1188.50,116.23 1189.00,118.50ZM1221.70,118.50C1222.47,116.10 1223.23,111.30 1224.00,111.30C1224.90,111.30 1225.80,116.10 1226.70,118.50ZM1233.00,118.50C1234.00,114.57 1235.00,109.68 1236.00,106.70C1237.00,103.72 1238.00,99.50 1239.00,99.50C1249.67,99.50 1260.33,99.50 1271.00,99.50C1272.67,99.50 1274.33,104.80 1276.00,108.00C1277.33,110.56 1278.67,116.04 1280.00,116.70C1282.33,117.86 1284.67,117.90 1287.00,118.50ZM1290.00,118.50C1291.00,114.00 1292.00,107.74 1293.00,105.00C1293.83,102.72 1294.67,100.00 1295.50,100.00C1296.17,100.00 1296.83,103.51 1297.50,105.80C1298.00,107.52 1298.50,109.44 1299.00,112.00C1299.33,113.71 1299.67,116.33 1300.00,118.50ZM1529.00,118.50C1529.67,116.67 1530.33,113.26 1531.00,113.00C1531.83,112.68 1532.67,112.50 1533.50,112.50C1533.67,112.50 1533.83,116.50 1534.00,118.50Z" fill="#b5a5dc" stroke="#b5a5dc" stroke-width="0.6" stroke-linejoin="round"/><path d="M92.50,118.50C93.43,115.10 94.37,108.30 95.30,108.30C96.30,108.30 97.30,115.10 98.30,118.50ZM110.80,118.50C111.93,115.10 113.07,108.30 114.20,108.30C115.13,108.30 116.07,115.10 117.00,118.50ZM127.00,118.50C127.67,118.00 128.33,117.00 129.00,117.00C129.90,117.00 130.80,118.00 131.70,118.50ZM190.00,118.50C190.57,113.67 191.13,106.11 191.70,104.00C192.13,102.38 192.57,100.80 193.00,100.80C193.67,100.80 194.33,105.00 195.00,107.00C196.33,110.99 197.67,114.67 199.00,118.50ZM391.70,118.50C392.90,116.50 394.10,112.50 395.30,112.50C396.43,112.50 397.57,116.50 398.70,118.50ZM471.70,118.50C473.07,117.00 474.43,114.00 475.80,114.00C477.20,114.00 478.60,117.00 480.00,118.50ZM485.80,118.50C486.87,114.27 487.93,105.80 489.00,105.80C490.17,105.80 491.33,114.27 492.50,118.50ZM495.00,118.50C495.57,117.50 496.13,115.50 496.70,115.50C497.30,115.50 497.90,117.50 498.50,118.50ZM515.80,118.50C517.20,117.00 518.60,114.00 520.00,114.00C521.67,114.00 523.33,117.00 525.00,118.50ZM835.00,118.50C836.17,115.00 837.33,110.99 838.50,108.00C839.57,105.26 840.63,100.80 841.70,100.80C842.47,100.80 843.23,101.80 844.00,103.00C845.00,104.57 846.00,113.33 847.00,118.50ZM914.00,118.50C914.83,117.50 915.67,115.50 916.50,115.50C917.33,115.50 918.17,117.50 919.00,118.50ZM927.50,118.50C928.50,117.17 929.50,114.50 930.50,114.50C931.50,114.50 932.50,117.17 933.50,118.50ZM1011.70,118.50C1012.80,115.67 1013.90,112.22 1015.00,110.00C1015.83,108.32 1016.67,105.80 1017.50,105.80C1018.17,105.80 1018.83,109.98 1019.50,112.00C1020.23,114.22 1020.97,116.33 1021.70,118.50ZM1033.00,118.50C1033.83,116.00 1034.67,113.07 1035.50,111.00C1036.17,109.34 1036.83,106.70 1037.50,106.70C1038.33,106.70 1039.17,110.63 1040.00,112.00C1041.00,113.65 1042.00,115.09 1043.00,116.00C1044.23,117.12 1045.47,117.67 1046.70,118.50ZM1079.00,118.50C1080.00,115.10 1081.00,108.30 1082.00,108.30C1083.27,108.30 1084.53,115.10 1085.80,118.50ZM1180.00,118.50C1181.33,117.00 1182.67,115.72 1184.00,114.00C1184.90,112.84 1185.80,110.00 1186.70,110.00C1187.47,110.00 1188.23,110.95 1189.00,112.50C1189.33,113.17 1189.67,116.50 1190.00,118.50ZM1292.50,118.50C1293.67,114.83 1294.83,108.31 1296.00,107.50C1297.00,106.80 1298.00,106.30 1299.00,106.30C1299.90,106.30 1300.80,111.88 1301.70,114.00C1302.13,115.02 1302.57,116.14 1303.00,116.70C1303.67,117.56 1304.33,117.90 1305.00,118.50ZM1329.00,118.50C1330.33,116.50 1331.67,112.50 1333.00,112.50C1334.67,112.50 1336.33,113.79 1338.00,115.00C1339.00,115.72 1340.00,117.33 1341.00,118.50ZM1529.50,118.50C1530.33,114.00 1531.17,107.50 1532.00,105.00C1532.80,102.60 1533.60,100.00 1534.40,100.00C1536.27,100.00 1538.13,100.00 1540.00,100.00C1541.00,100.00 1542.00,106.63 1543.00,110.00C1543.83,112.81 1544.67,115.67 1545.50,118.50Z" fill="#9bbd93" stroke="#9bbd93" stroke-width="0.6" stroke-linejoin="round"/><path d="M141.00,118.50C142.00,116.90 143.00,113.70 144.00,113.70C145.17,113.70 146.33,116.90 147.50,118.50ZM135.00,118.50C135.67,118.17 136.33,117.50 137.00,117.50C137.67,117.50 138.33,118.17 139.00,118.50ZM409.00,118.50C409.60,117.50 410.20,115.50 410.80,115.50C411.53,115.50 412.27,117.50 413.00,118.50ZM419.50,118.50C420.23,117.33 420.97,115.00 421.70,115.00C422.47,115.00 423.23,117.33 424.00,118.50ZM424.00,118.50C424.60,117.83 425.20,116.50 425.80,116.50C426.53,116.50 427.27,117.83 428.00,118.50ZM718.00,118.50C719.33,115.67 720.67,112.85 722.00,110.00C723.17,107.51 724.33,102.50 725.50,102.50C726.67,102.50 727.83,107.34 729.00,110.00C730.17,112.66 731.33,115.67 732.50,118.50ZM764.00,118.50C765.00,117.33 766.00,116.02 767.00,115.00C768.10,113.87 769.20,112.00 770.30,112.00C771.20,112.00 772.10,113.76 773.00,115.00C773.67,115.92 774.33,117.33 775.00,118.50ZM861.70,118.50C864.47,117.83 867.23,117.23 870.00,116.50C871.17,116.19 872.33,115.50 873.50,115.50C874.33,115.50 875.17,117.50 876.00,118.50ZM1024.00,118.50C1025.33,117.83 1026.67,116.50 1028.00,116.50C1029.67,116.50 1031.33,117.83 1033.00,118.50ZM1086.70,118.50C1087.80,116.23 1088.90,111.70 1090.00,111.70C1091.67,111.70 1093.33,115.00 1095.00,115.00C1096.93,115.00 1098.87,106.30 1100.80,106.30C1102.77,106.30 1104.73,112.43 1106.70,114.00C1107.80,114.88 1108.90,115.23 1110.00,116.00C1111.00,116.70 1112.00,117.67 1113.00,118.50ZM1138.00,118.50C1139.50,117.00 1141.00,114.00 1142.50,114.00C1143.67,114.00 1144.83,117.00 1146.00,118.50ZM1191.70,118.50C1193.37,117.33 1195.03,116.37 1196.70,115.00C1198.37,113.63 1200.03,110.00 1201.70,110.00C1202.80,110.00 1203.90,112.52 1205.00,114.00C1206.00,115.34 1207.00,117.00 1208.00,118.50ZM1235.00,118.50C1236.33,116.33 1237.67,112.00 1239.00,112.00C1240.67,112.00 1242.33,113.08 1244.00,114.00C1245.67,114.92 1247.33,117.00 1249.00,118.50ZM1299.00,118.50C1300.33,117.67 1301.67,116.41 1303.00,116.00C1306.67,114.87 1310.33,114.66 1314.00,114.00C1316.83,113.49 1319.67,112.50 1322.50,112.50C1323.90,112.50 1325.30,113.19 1326.70,114.00C1327.80,114.64 1328.90,117.00 1330.00,118.50Z" fill="#93b2de" stroke="#93b2de" stroke-width="0.6" stroke-linejoin="round"/><path d="M1337.0,118.5L1337.5,102.5L1340.0,102.5L1344.0,114.0L1345.0,118.5Z" fill="url(#hatch)"/><path d="M1542.0,118.5L1546.0,108.0L1550.0,102.0L1553.0,108.0L1556.7,118.5Z" fill="url(#hatch)"/><rect x="136.0" y="126.0" width="62.0" height="3.3" fill="#e8dcc5"/><rect x="437.0" y="126.0" width="55.0" height="3.3" fill="#e8dcc5"/><rect x="719.0" y="126.0" width="426.0" height="3.3" fill="#e8dcc5"/><rect x="1201.0" y="126.0" width="18.7" height="3.3" fill="#e8dcc5"/><rect x="1281.0" y="126.0" width="56.5" height="3.3" fill="#e8dcc5"/><rect x="144.5" y="126.0" width="1.5" height="3.3" fill="#e2bf6c"/><rect x="196.5" y="126.0" width="1.5" height="3.3" fill="#e2bf6c"/><rect x="490.5" y="126.0" width="1.5" height="3.3" fill="#e2bf6c"/><rect x="767.0" y="126.0" width="6.3" height="3.3" fill="#e2bf6c"/><rect x="871.0" y="126.0" width="2.5" height="3.3" fill="#e2bf6c"/><rect x="875.0" y="126.0" width="2.5" height="3.3" fill="#e2bf6c"/><rect x="960.0" y="126.0" width="2.5" height="3.3" fill="#e2bf6c"/><rect x="1041.7" y="126.0" width="2.0" height="3.3" fill="#e2bf6c"/><rect x="1072.5" y="126.0" width="1.5" height="3.3" fill="#e2bf6c"/><rect x="1097.0" y="126.0" width="1.7" height="3.3" fill="#e2bf6c"/><rect x="1113.0" y="126.0" width="2.5" height="3.3" fill="#e2bf6c"/><rect x="1120.0" y="126.0" width="4.0" height="3.3" fill="#e2bf6c"/><rect x="1142.0" y="126.0" width="3.0" height="3.3" fill="#e2bf6c"/><rect x="1216.0" y="126.0" width="3.7" height="3.3" fill="#e2bf6c"/><rect x="1336.0" y="126.0" width="1.5" height="3.3" fill="#e2bf6c"/><rect x="136.0" y="130.7" width="9.0" height="3.3" fill="#d8d1ea"/><rect x="726.7" y="130.7" width="45.8" height="3.3" fill="#d8d1ea"/><rect x="1098.8" y="130.7" width="44.9" height="3.3" fill="#d8d1ea"/><rect x="143.7" y="130.7" width="1.3" height="3.3" fill="#ab96e0"/><rect x="768.8" y="130.7" width="3.7" height="3.3" fill="#ab96e0"/><rect x="1139.0" y="130.7" width="4.7" height="3.3" fill="#ab96e0"/><rect x="739.7" y="135.3" width="108.6" height="3.4" fill="#cfdccc"/><rect x="1002.0" y="135.3" width="31.8" height="3.4" fill="#cfdccc"/><rect x="1201.0" y="135.3" width="127.0" height="3.4" fill="#cfdccc"/><rect x="845.5" y="135.3" width="2.8" height="3.4" fill="#9cc294"/><rect x="1029.0" y="135.3" width="4.8" height="3.4" fill="#9cc294"/><rect x="1300.0" y="135.3" width="4.0" height="3.4" fill="#9cc294"/><rect x="1307.0" y="135.3" width="21.0" height="3.4" fill="#9cc294"/><g clip-path="url(#cw)"><rect x="407.0" y="50" width="17.2" height="94" fill="#fff"/><rect x="0" y="97.3" width="1800" height="0.8" fill="#eee"/><rect x="0" y="118.3" width="1800" height="0.8" fill="#eee"/><path d="M0.00,118.50C0.02,117.83 0.03,116.50 0.05,116.50C1.03,116.50 2.02,116.66 3.00,117.00C3.33,117.12 3.67,118.00 4.00,118.50ZM135.00,118.50C135.67,112.17 136.33,99.50 137.00,99.50C163.33,99.50 189.67,99.50 216.00,99.50C216.67,99.50 217.33,102.20 218.00,104.00C219.33,107.61 220.67,113.67 222.00,118.50ZM239.50,118.50C240.17,114.00 240.83,105.00 241.50,105.00C242.33,105.00 243.17,114.00 244.00,118.50ZM249.00,118.50C249.33,117.67 249.67,117.05 250.00,116.00C251.10,112.54 252.20,99.50 253.30,99.50C265.87,99.50 278.43,99.50 291.00,99.50C292.00,99.50 293.00,106.15 294.00,109.00C294.90,111.56 295.80,114.05 296.70,116.00C297.13,116.94 297.57,117.67 298.00,118.50ZM408.00,118.50C408.67,112.17 409.33,99.50 410.00,99.50C447.67,99.50 485.33,99.50 523.00,99.50C523.50,99.50 524.00,101.71 524.50,104.00C525.00,106.29 525.50,113.67 526.00,118.50ZM684.00,118.50C684.67,117.83 685.33,117.42 686.00,116.50C687.90,113.86 689.80,99.50 691.70,99.50C768.80,99.50 845.90,99.50 923.00,99.50C925.33,99.50 927.67,101.38 930.00,104.00C931.33,105.50 932.67,113.75 934.00,116.00C934.67,117.12 935.33,117.67 936.00,118.50ZM958.00,118.50C958.67,113.67 959.33,105.73 960.00,104.00C961.00,101.40 962.00,99.50 963.00,99.50C1014.23,99.50 1065.47,99.50 1116.70,99.50C1117.80,99.50 1118.90,113.00 1120.00,113.00C1121.00,113.00 1122.00,112.81 1123.00,112.50C1124.23,112.12 1125.47,99.50 1126.70,99.50C1152.13,99.50 1177.57,99.50 1203.00,99.50C1204.23,99.50 1205.47,103.68 1206.70,106.70C1207.80,109.40 1208.90,117.50 1210.00,117.50C1211.00,117.50 1212.00,114.73 1213.00,114.00C1214.50,112.91 1216.00,113.20 1217.50,111.70C1218.33,110.86 1219.17,99.50 1220.00,99.50C1258.00,99.50 1296.00,99.50 1334.00,99.50C1334.90,99.50 1335.80,101.14 1336.70,104.00C1337.13,105.38 1337.57,113.67 1338.00,118.50ZM1727.80,118.50C1728.87,115.50 1729.93,109.50 1731.00,109.50C1732.50,109.50 1734.00,111.57 1735.50,113.00C1737.00,114.43 1738.50,116.67 1740.00,118.50ZM1528.00,118.50C1529.00,116.33 1530.00,112.00 1531.00,112.00C1532.00,112.00 1533.00,116.33 1534.00,118.50Z" fill="#cdcdcd" stroke="#cdcdcd" stroke-width="0.6" stroke-linejoin="round"/><path d="M14.00,118.50C14.90,114.00 15.80,105.00 16.70,105.00C17.47,105.00 18.23,111.02 19.00,113.00C19.90,115.33 20.80,116.67 21.70,118.50ZM24.00,118.50C25.00,117.83 26.00,116.50 27.00,116.50C28.00,116.50 29.00,117.83 30.00,118.50ZM32.00,118.50C33.00,117.83 34.00,116.50 35.00,116.50C36.00,116.50 37.00,117.83 38.00,118.50ZM40.00,118.50C41.00,117.83 42.00,116.50 43.00,116.50C44.00,116.50 45.00,117.83 46.00,118.50ZM51.00,118.50C52.33,117.33 53.67,115.00 55.00,115.00C56.33,115.00 57.67,117.33 59.00,118.50ZM58.00,118.50C59.00,117.83 60.00,116.50 61.00,116.50C62.00,116.50 63.00,117.83 64.00,118.50ZM66.00,118.50C67.00,117.83 68.00,116.50 69.00,116.50C70.00,116.50 71.00,117.83 72.00,118.50ZM73.00,118.50C74.33,117.50 75.67,115.50 77.00,115.50C78.33,115.50 79.67,117.50 81.00,118.50ZM85.00,118.50C86.00,115.67 87.00,112.99 88.00,110.00C89.10,106.71 90.20,99.50 91.30,99.50C91.87,99.50 92.43,100.23 93.00,100.50C94.00,100.98 95.00,101.02 96.00,101.70C97.33,102.60 98.67,113.00 100.00,113.00C101.00,113.00 102.00,113.00 103.00,113.00C104.23,113.00 105.47,116.67 106.70,118.50ZM108.00,118.50C109.00,112.33 110.00,100.00 111.00,100.00C112.33,100.00 113.67,100.28 115.00,101.00C115.67,101.36 116.33,116.00 117.00,116.00C118.00,116.00 119.00,114.47 120.00,113.00C120.67,112.02 121.33,109.72 122.00,108.00C123.00,105.42 124.00,100.00 125.00,100.00C126.00,100.00 127.00,105.45 128.00,108.00C129.23,111.14 130.47,115.17 131.70,117.00C132.13,117.64 132.57,118.00 133.00,118.50ZM133.00,118.50C134.23,112.33 135.47,100.14 136.70,100.00C140.13,99.61 143.57,99.50 147.00,99.50C147.33,99.50 147.67,112.17 148.00,118.50ZM195.00,118.50C195.57,114.57 196.13,107.96 196.70,106.70C198.37,103.00 200.03,101.26 201.70,101.00C203.80,100.68 205.90,100.50 208.00,100.50C210.33,100.50 212.67,100.90 215.00,102.00C215.57,102.27 216.13,104.51 216.70,106.00C217.47,108.02 218.23,111.12 219.00,113.00C219.90,115.21 220.80,116.67 221.70,118.50ZM222.00,118.50C223.33,117.17 224.67,114.50 226.00,114.50C227.33,114.50 228.67,117.17 230.00,118.50ZM232.00,118.50C233.00,117.83 234.00,116.50 235.00,116.50C236.00,116.50 237.00,117.83 238.00,118.50ZM239.50,118.50C240.17,116.33 240.83,112.00 241.50,112.00C242.33,112.00 243.17,116.33 244.00,118.50ZM245.00,118.50C246.00,117.67 247.00,116.00 248.00,116.00C249.00,116.00 250.00,117.67 251.00,118.50ZM253.70,118.50C254.70,117.50 255.70,115.50 256.70,115.50C257.70,115.50 258.70,117.50 259.70,118.50ZM264.50,118.50C265.50,117.67 266.50,116.00 267.50,116.00C268.50,116.00 269.50,117.67 270.50,118.50ZM279.00,118.50C280.33,116.83 281.67,113.50 283.00,113.50C284.33,113.50 285.67,116.83 287.00,118.50ZM287.00,118.50C288.57,115.33 290.13,109.00 291.70,109.00C292.47,109.00 293.23,110.90 294.00,112.00C295.33,113.91 296.67,116.33 298.00,118.50ZM300.00,118.50C301.00,117.50 302.00,115.50 303.00,115.50C306.00,115.50 309.00,115.63 312.00,116.00C313.00,116.12 314.00,117.67 315.00,118.50ZM318.30,118.50C319.03,116.23 319.77,111.70 320.50,111.70C321.67,111.70 322.83,114.14 324.00,115.00C326.00,116.47 328.00,117.33 330.00,118.50ZM333.00,118.50C334.00,115.00 335.00,111.60 336.00,108.00C336.77,105.24 337.53,99.50 338.30,99.50C341.37,99.50 344.43,99.50 347.50,99.50C348.00,99.50 348.50,104.24 349.00,108.00C349.33,110.50 349.67,115.00 350.00,118.50ZM351.00,118.50C352.00,117.83 353.00,116.50 354.00,116.50C355.00,116.50 356.00,117.83 357.00,118.50ZM359.00,118.50C359.90,116.10 360.80,111.30 361.70,111.30C362.47,111.30 363.23,116.10 364.00,118.50ZM367.50,118.50C369.00,117.67 370.50,116.00 372.00,116.00C375.67,116.00 379.33,116.00 383.00,116.00C383.67,116.00 384.33,117.67 385.00,118.50ZM385.00,118.50C386.00,116.67 387.00,115.31 388.00,113.00C389.33,109.92 390.67,100.00 392.00,100.00C392.67,100.00 393.33,102.04 394.00,103.00C394.90,104.29 395.80,104.83 396.70,106.70C397.47,108.29 398.23,113.70 399.00,116.00C399.33,117.00 399.67,117.67 400.00,118.50ZM400.80,118.50C401.63,116.33 402.47,112.00 403.30,112.00C404.13,112.00 404.97,116.33 405.80,118.50ZM407.50,118.50C407.83,115.00 408.17,110.50 408.50,108.00C409.00,104.24 409.50,99.50 410.00,99.50C411.67,99.50 413.33,99.50 415.00,99.50C415.67,99.50 416.33,101.58 417.00,103.00C417.83,104.78 418.67,109.03 419.50,110.00C420.17,110.77 420.83,111.50 421.50,111.50C422.50,111.50 423.50,107.61 424.50,106.00C425.50,104.39 426.50,102.61 427.50,101.70C428.33,100.94 429.17,100.00 430.00,100.00C442.67,100.00 455.33,100.50 468.00,100.50C477.00,100.50 486.00,100.50 495.00,100.50C503.33,100.50 511.67,100.00 520.00,100.00C521.10,100.00 522.20,101.19 523.30,103.00C524.13,104.37 524.97,113.33 525.80,118.50ZM527.50,118.50C528.33,115.33 529.17,109.00 530.00,109.00C531.10,109.00 532.20,115.33 533.30,118.50ZM546.00,118.50C547.00,117.50 548.00,115.50 549.00,115.50C550.00,115.50 551.00,117.50 552.00,118.50ZM557.00,118.50C558.00,118.17 559.00,117.50 560.00,117.50C561.00,117.50 562.00,118.17 563.00,118.50ZM571.70,118.50C573.07,115.33 574.43,109.00 575.80,109.00C576.87,109.00 577.93,111.52 579.00,113.00C580.17,114.62 581.33,116.67 582.50,118.50ZM590.00,118.50C591.00,118.00 592.00,117.00 593.00,117.00C594.00,117.00 595.00,118.00 596.00,118.50ZM598.00,118.50C599.00,118.00 600.00,117.00 601.00,117.00C602.00,117.00 603.00,118.00 604.00,118.50ZM617.30,118.50C618.47,117.33 619.63,115.00 620.80,115.00C621.97,115.00 623.13,117.33 624.30,118.50ZM628.00,118.50C629.00,118.17 630.00,117.50 631.00,117.50C632.00,117.50 633.00,118.17 634.00,118.50ZM640.00,118.50C641.00,118.17 642.00,117.50 643.00,117.50C644.00,117.50 645.00,118.17 646.00,118.50ZM688.30,118.50C689.97,114.00 691.63,107.76 693.30,105.00C694.43,103.12 695.57,100.80 696.70,100.80C697.47,100.80 698.23,103.30 699.00,103.30C701.00,103.30 703.00,99.50 705.00,99.50C714.67,99.50 724.33,99.50 734.00,99.50C734.90,99.50 735.80,107.50 736.70,107.50C738.07,107.50 739.43,99.50 740.80,99.50C748.53,99.50 756.27,99.50 764.00,99.50C765.17,99.50 766.33,110.80 767.50,110.80C768.60,110.80 769.70,110.80 770.80,110.80C772.77,110.80 774.73,99.50 776.70,99.50C798.37,99.50 820.03,99.50 841.70,99.50C843.07,99.50 844.43,106.70 845.80,106.70C846.10,106.70 846.40,105.38 846.70,105.00C848.37,102.87 850.03,101.02 851.70,100.80C856.13,100.23 860.57,100.00 865.00,100.00C866.33,100.00 867.67,101.80 869.00,103.00C870.33,104.20 871.67,105.83 873.00,107.50C874.00,108.75 875.00,111.70 876.00,111.70C876.67,111.70 877.33,107.01 878.00,105.00C878.67,102.99 879.33,99.50 880.00,99.50C881.33,99.50 882.67,99.50 884.00,99.50C884.67,99.50 885.33,101.70 886.00,101.70C895.00,101.70 904.00,101.00 913.00,101.00C914.67,101.00 916.33,102.13 918.00,103.00C919.67,103.87 921.33,105.73 923.00,106.70C925.33,108.06 927.67,108.01 930.00,110.00C931.00,110.85 932.00,115.45 933.00,116.70C933.67,117.53 934.33,117.90 935.00,118.50ZM936.00,118.50C937.00,116.23 938.00,111.70 939.00,111.70C940.17,111.70 941.33,116.23 942.50,118.50ZM943.00,118.50C944.23,115.67 945.47,110.00 946.70,110.00C947.97,110.00 949.23,115.67 950.50,118.50ZM952.00,118.50C952.67,117.50 953.33,115.50 954.00,115.50C954.67,115.50 955.33,117.50 956.00,118.50ZM959.00,118.50C959.67,114.00 960.33,106.86 961.00,105.00C962.00,102.21 963.00,100.00 964.00,100.00C981.57,100.00 999.13,100.00 1016.70,100.00C1018.13,100.00 1019.57,109.46 1021.00,112.50C1021.67,113.91 1022.33,116.00 1023.00,116.00C1025.00,116.00 1027.00,106.70 1029.00,106.70C1029.90,106.70 1030.80,109.16 1031.70,110.80C1032.47,112.20 1033.23,116.00 1034.00,116.00C1034.90,116.00 1035.80,100.80 1036.70,100.80C1037.80,100.80 1038.90,104.00 1040.00,104.00C1041.33,104.00 1042.67,100.90 1044.00,100.80C1053.23,100.13 1062.47,100.00 1071.70,100.00C1074.47,100.00 1077.23,100.00 1080.00,100.00C1080.57,100.00 1081.13,106.70 1081.70,106.70C1083.80,106.70 1085.90,101.70 1088.00,101.70C1089.67,101.70 1091.33,106.70 1093.00,106.70C1094.50,106.70 1096.00,101.70 1097.50,101.70C1098.33,101.70 1099.17,104.80 1100.00,105.80C1102.23,108.48 1104.47,111.70 1106.70,111.70C1108.07,111.70 1109.43,101.70 1110.80,101.70C1112.20,101.70 1113.60,102.11 1115.00,103.00C1115.83,103.53 1116.67,116.43 1117.50,116.70C1119.33,117.29 1121.17,117.50 1123.00,117.50C1123.93,117.50 1124.87,105.22 1125.80,103.00C1126.53,101.25 1127.27,99.50 1128.00,99.50C1130.90,99.50 1133.80,99.50 1136.70,99.50C1137.47,99.50 1138.23,100.89 1139.00,102.50C1139.67,103.90 1140.33,112.50 1141.00,112.50C1141.67,112.50 1142.33,109.32 1143.00,108.00C1144.67,104.71 1146.33,99.50 1148.00,99.50C1166.17,99.50 1184.33,99.50 1202.50,99.50C1203.33,99.50 1204.17,105.26 1205.00,108.00C1206.00,111.28 1207.00,116.10 1208.00,117.50C1208.33,117.97 1208.67,118.17 1209.00,118.50ZM1216.70,118.50C1217.80,112.33 1218.90,100.00 1220.00,100.00C1226.00,100.00 1232.00,100.00 1238.00,100.00C1249.00,100.00 1260.00,99.50 1271.00,99.50C1277.33,99.50 1283.67,99.50 1290.00,99.50C1291.33,99.50 1292.67,101.45 1294.00,103.00C1295.00,104.16 1296.00,105.38 1297.00,108.00C1297.67,109.75 1298.33,115.00 1299.00,118.50ZM1325.00,118.50C1325.33,117.67 1325.67,117.04 1326.00,116.00C1327.00,112.88 1328.00,101.87 1329.00,101.70C1330.67,101.41 1332.33,101.30 1334.00,101.30C1335.33,101.30 1336.67,110.03 1338.00,113.00C1339.00,115.23 1340.00,116.67 1341.00,118.50ZM1356.00,118.50C1357.00,117.83 1358.00,116.50 1359.00,116.50C1360.00,116.50 1361.00,117.83 1362.00,118.50ZM1397.50,118.50C1398.50,116.17 1399.50,111.50 1400.50,111.50C1401.50,111.50 1402.50,116.17 1403.50,118.50ZM1412.00,118.50C1413.00,118.00 1414.00,117.00 1415.00,117.00C1416.00,117.00 1417.00,118.00 1418.00,118.50ZM1501.00,118.50C1502.00,118.00 1503.00,117.00 1504.00,117.00C1505.00,117.00 1506.00,118.00 1507.00,118.50ZM1569.00,118.50C1570.00,118.17 1571.00,117.50 1572.00,117.50C1573.00,117.50 1574.00,118.17 1575.00,118.50ZM1746.00,118.50C1747.00,117.83 1748.00,116.50 1749.00,116.50C1750.00,116.50 1751.00,117.83 1752.00,118.50ZM1780.00,118.50C1781.33,116.00 1782.67,111.00 1784.00,111.00C1785.00,111.00 1786.00,112.02 1787.00,113.00C1788.00,113.98 1789.00,116.67 1790.00,118.50Z" fill="#f3c04d" stroke="#f3c04d" stroke-width="0.6" stroke-linejoin="round"/><path d="M14.00,118.50C15.00,117.33 16.00,115.00 17.00,115.00C18.00,115.00 19.00,115.52 20.00,116.00C21.00,116.48 22.00,117.67 23.00,118.50ZM24.00,118.50C25.00,118.07 26.00,117.20 27.00,117.20C28.00,117.20 29.00,118.07 30.00,118.50ZM32.00,118.50C33.00,118.07 34.00,117.20 35.00,117.20C36.00,117.20 37.00,118.07 38.00,118.50ZM40.00,118.50C41.00,118.07 42.00,117.20 43.00,117.20C44.00,117.20 45.00,118.07 46.00,118.50ZM52.00,118.50C53.00,118.00 54.00,117.00 55.00,117.00C56.00,117.00 57.00,118.00 58.00,118.50ZM58.00,118.50C59.00,118.07 60.00,117.20 61.00,117.20C62.00,117.20 63.00,118.07 64.00,118.50ZM66.00,118.50C67.00,118.07 68.00,117.20 69.00,117.20C70.00,117.20 71.00,118.07 72.00,118.50ZM74.00,118.50C75.00,118.00 76.00,117.00 77.00,117.00C78.00,117.00 79.00,118.00 80.00,118.50ZM86.00,118.50C86.83,116.33 87.67,114.72 88.50,112.00C89.43,108.95 90.37,99.50 91.30,99.50C92.20,99.50 93.10,102.27 94.00,104.00C95.43,106.75 96.87,112.72 98.30,114.00C99.97,115.48 101.63,115.81 103.30,116.70C104.43,117.31 105.57,117.90 106.70,118.50ZM108.30,118.50C108.87,115.00 109.43,110.24 110.00,108.00C110.83,104.71 111.67,101.00 112.50,101.00C113.33,101.00 114.17,103.43 115.00,106.00C115.57,107.75 116.13,116.00 116.70,116.00C117.47,116.00 118.23,116.00 119.00,116.00C120.00,116.00 121.00,112.45 122.00,110.00C123.00,107.55 124.00,100.50 125.00,100.50C125.83,100.50 126.67,104.01 127.50,106.00C128.33,107.99 129.17,110.42 130.00,112.50C130.83,114.58 131.67,116.50 132.50,118.50ZM133.30,118.50C133.87,116.67 134.43,114.40 135.00,113.00C136.10,110.28 137.20,108.15 138.30,106.70C139.43,105.21 140.57,103.30 141.70,103.30C142.13,103.30 142.57,107.50 143.00,107.50C143.67,107.50 144.33,104.16 145.00,103.00C145.83,101.55 146.67,99.50 147.50,99.50C162.23,99.50 176.97,99.50 191.70,99.50C192.13,99.50 192.57,100.24 193.00,100.80C194.77,103.08 196.53,113.00 198.30,113.00C199.13,113.00 199.97,112.50 200.80,112.50C201.87,112.50 202.93,116.50 204.00,118.50ZM206.70,118.50C208.13,117.33 209.57,116.17 211.00,115.00C212.33,113.91 213.67,111.70 215.00,111.70C215.67,111.70 216.33,113.61 217.00,115.00C217.43,115.90 217.87,117.33 218.30,118.50ZM239.80,118.50C240.37,117.50 240.93,115.50 241.50,115.50C242.17,115.50 242.83,117.50 243.50,118.50ZM288.00,118.50C288.93,117.50 289.87,115.50 290.80,115.50C291.87,115.50 292.93,117.50 294.00,118.50ZM359.50,118.50C360.23,117.50 360.97,115.50 361.70,115.50C362.47,115.50 363.23,117.50 364.00,118.50ZM386.70,118.50C387.47,116.33 388.23,113.82 389.00,112.00C390.17,109.23 391.33,105.00 392.50,105.00C393.33,105.00 394.17,108.86 395.00,110.80C396.10,113.36 397.20,115.93 398.30,118.50ZM401.50,118.50C402.10,117.50 402.70,115.50 403.30,115.50C403.87,115.50 404.43,117.50 405.00,118.50ZM419.00,118.50C419.50,117.00 420.00,115.16 420.50,114.00C420.90,113.07 421.30,111.70 421.70,111.70C422.13,111.70 422.57,113.15 423.00,114.00C423.67,115.31 424.33,117.00 425.00,118.50ZM434.00,118.50C435.43,114.57 436.87,111.46 438.30,106.70C438.87,104.82 439.43,100.00 440.00,100.00C442.77,100.00 445.53,100.00 448.30,100.00C448.87,100.00 449.43,105.22 450.00,108.00C450.57,110.78 451.13,116.70 451.70,116.70C452.80,116.70 453.90,115.91 455.00,115.50C456.33,115.01 457.67,114.35 459.00,114.00C461.57,113.32 464.13,112.50 466.70,112.50C467.80,112.50 468.90,113.24 470.00,114.00C470.57,114.39 471.13,116.00 471.70,116.00C472.70,116.00 473.70,102.50 474.70,102.50C475.13,102.50 475.57,108.16 476.00,110.00C476.50,112.13 477.00,113.98 477.50,115.00C478.33,116.70 479.17,117.33 480.00,118.50ZM482.50,118.50C483.33,115.67 484.17,112.89 485.00,110.00C485.57,108.04 486.13,104.00 486.70,104.00C487.47,104.00 488.23,104.89 489.00,106.00C489.67,106.97 490.33,111.73 491.00,114.00C491.50,115.70 492.00,117.00 492.50,118.50ZM515.80,118.50C516.53,115.67 517.27,112.89 518.00,110.00C518.50,108.03 519.00,104.00 519.50,104.00C520.00,104.00 520.50,107.66 521.00,110.00C521.50,112.34 522.00,115.67 522.50,118.50ZM573.00,118.50C573.83,117.33 574.67,115.00 575.50,115.00C576.33,115.00 577.17,117.33 578.00,118.50ZM1781.00,118.50C1782.33,117.17 1783.67,114.50 1785.00,114.50C1786.33,114.50 1787.67,117.17 1789.00,118.50ZM693.30,118.50C694.20,115.67 695.10,112.42 696.00,110.00C697.00,107.31 698.00,103.00 699.00,103.00C700.00,103.00 701.00,107.85 702.00,110.00C703.00,112.15 704.00,115.02 705.00,116.00C706.33,117.30 707.67,117.67 709.00,118.50ZM734.00,118.50C735.00,117.33 736.00,116.24 737.00,115.00C738.00,113.76 739.00,111.00 740.00,111.00C741.00,111.00 742.00,116.00 743.00,118.50ZM755.80,118.50C756.87,116.23 757.93,111.70 759.00,111.70C760.17,111.70 761.33,116.23 762.50,118.50ZM775.00,118.50C775.33,115.00 775.67,110.50 776.00,108.00C776.50,104.24 777.00,99.50 777.50,99.50C798.90,99.50 820.30,99.50 841.70,99.50C842.47,99.50 843.23,104.16 844.00,105.80C845.00,107.94 846.00,109.49 847.00,111.00C848.00,112.51 849.00,113.35 850.00,115.00C850.57,115.94 851.13,117.33 851.70,118.50ZM872.00,118.50C872.67,117.33 873.33,116.42 874.00,115.00C875.17,112.52 876.33,107.88 877.50,105.00C878.33,102.94 879.17,99.50 880.00,99.50C881.33,99.50 882.67,99.50 884.00,99.50C884.90,99.50 885.80,109.35 886.70,111.70C887.47,113.71 888.23,114.33 889.00,116.00C889.33,116.73 889.67,117.67 890.00,118.50ZM895.00,118.50C896.00,114.83 897.00,107.50 898.00,107.50C898.93,107.50 899.87,114.83 900.80,118.50ZM906.70,118.50C907.80,117.00 908.90,115.25 910.00,114.00C911.10,112.75 912.20,110.80 913.30,110.80C914.43,110.80 915.57,113.97 916.70,115.00C918.37,116.52 920.03,117.33 921.70,118.50ZM923.00,118.50C924.33,117.33 925.67,116.16 927.00,115.00C928.27,113.90 929.53,111.70 930.80,111.70C931.53,111.70 932.27,114.89 933.00,116.00C933.67,117.01 934.33,117.67 935.00,118.50ZM938.00,118.50C938.67,117.67 939.33,116.00 940.00,116.00C942.67,116.00 945.33,116.00 948.00,116.00C948.67,116.00 949.33,117.67 950.00,118.50ZM952.50,118.50C953.00,117.67 953.50,116.00 954.00,116.00C954.50,116.00 955.00,117.67 955.50,118.50ZM959.00,118.50C960.17,117.23 961.33,114.70 962.50,114.70C964.17,114.70 965.83,117.23 967.50,118.50ZM1000.80,118.50C1001.53,116.67 1002.27,114.92 1003.00,113.00C1003.67,111.25 1004.33,109.77 1005.00,107.50C1005.57,105.57 1006.13,100.00 1006.70,100.00C1007.80,100.00 1008.90,102.50 1010.00,102.50C1011.33,102.50 1012.67,100.00 1014.00,100.00C1014.67,100.00 1015.33,100.72 1016.00,101.50C1016.50,102.08 1017.00,103.68 1017.50,105.00C1018.90,108.69 1020.30,114.00 1021.70,118.50ZM1023.00,118.50C1024.00,116.67 1025.00,114.83 1026.00,113.00C1027.00,111.17 1028.00,107.50 1029.00,107.50C1029.90,107.50 1030.80,112.06 1031.70,114.00C1032.47,115.65 1033.23,117.00 1034.00,118.50ZM1067.50,118.50C1068.90,114.57 1070.30,109.83 1071.70,106.70C1072.80,104.24 1073.90,100.50 1075.00,100.50C1076.33,100.50 1077.67,100.50 1079.00,100.50C1079.90,100.50 1080.80,105.34 1081.70,107.50C1083.37,111.50 1085.03,114.83 1086.70,118.50ZM1110.00,118.50C1110.67,117.00 1111.33,114.30 1112.00,114.00C1112.67,113.70 1113.33,113.50 1114.00,113.50C1114.67,113.50 1115.33,116.83 1116.00,118.50ZM1140.00,118.50C1141.00,115.00 1142.00,110.36 1143.00,108.00C1144.67,104.07 1146.33,99.50 1148.00,99.50C1159.50,99.50 1171.00,99.50 1182.50,99.50C1183.67,99.50 1184.83,105.14 1186.00,108.00C1186.50,109.23 1187.00,110.10 1187.50,111.70C1188.00,113.30 1188.50,116.23 1189.00,118.50ZM1221.70,118.50C1222.47,116.10 1223.23,111.30 1224.00,111.30C1224.90,111.30 1225.80,116.10 1226.70,118.50ZM1233.00,118.50C1234.00,114.57 1235.00,109.68 1236.00,106.70C1237.00,103.72 1238.00,99.50 1239.00,99.50C1249.67,99.50 1260.33,99.50 1271.00,99.50C1272.67,99.50 1274.33,104.80 1276.00,108.00C1277.33,110.56 1278.67,116.04 1280.00,116.70C1282.33,117.86 1284.67,117.90 1287.00,118.50ZM1290.00,118.50C1291.00,114.00 1292.00,107.74 1293.00,105.00C1293.83,102.72 1294.67,100.00 1295.50,100.00C1296.17,100.00 1296.83,103.51 1297.50,105.80C1298.00,107.52 1298.50,109.44 1299.00,112.00C1299.33,113.71 1299.67,116.33 1300.00,118.50ZM1529.00,118.50C1529.67,116.67 1530.33,113.26 1531.00,113.00C1531.83,112.68 1532.67,112.50 1533.50,112.50C1533.67,112.50 1533.83,116.50 1534.00,118.50Z" fill="#9b7fe6" stroke="#9b7fe6" stroke-width="0.6" stroke-linejoin="round"/><path d="M92.50,118.50C93.43,115.10 94.37,108.30 95.30,108.30C96.30,108.30 97.30,115.10 98.30,118.50ZM110.80,118.50C111.93,115.10 113.07,108.30 114.20,108.30C115.13,108.30 116.07,115.10 117.00,118.50ZM127.00,118.50C127.67,118.00 128.33,117.00 129.00,117.00C129.90,117.00 130.80,118.00 131.70,118.50ZM190.00,118.50C190.57,113.67 191.13,106.11 191.70,104.00C192.13,102.38 192.57,100.80 193.00,100.80C193.67,100.80 194.33,105.00 195.00,107.00C196.33,110.99 197.67,114.67 199.00,118.50ZM391.70,118.50C392.90,116.50 394.10,112.50 395.30,112.50C396.43,112.50 397.57,116.50 398.70,118.50ZM471.70,118.50C473.07,117.00 474.43,114.00 475.80,114.00C477.20,114.00 478.60,117.00 480.00,118.50ZM485.80,118.50C486.87,114.27 487.93,105.80 489.00,105.80C490.17,105.80 491.33,114.27 492.50,118.50ZM495.00,118.50C495.57,117.50 496.13,115.50 496.70,115.50C497.30,115.50 497.90,117.50 498.50,118.50ZM515.80,118.50C517.20,117.00 518.60,114.00 520.00,114.00C521.67,114.00 523.33,117.00 525.00,118.50ZM835.00,118.50C836.17,115.00 837.33,110.99 838.50,108.00C839.57,105.26 840.63,100.80 841.70,100.80C842.47,100.80 843.23,101.80 844.00,103.00C845.00,104.57 846.00,113.33 847.00,118.50ZM914.00,118.50C914.83,117.50 915.67,115.50 916.50,115.50C917.33,115.50 918.17,117.50 919.00,118.50ZM927.50,118.50C928.50,117.17 929.50,114.50 930.50,114.50C931.50,114.50 932.50,117.17 933.50,118.50ZM1011.70,118.50C1012.80,115.67 1013.90,112.22 1015.00,110.00C1015.83,108.32 1016.67,105.80 1017.50,105.80C1018.17,105.80 1018.83,109.98 1019.50,112.00C1020.23,114.22 1020.97,116.33 1021.70,118.50ZM1033.00,118.50C1033.83,116.00 1034.67,113.07 1035.50,111.00C1036.17,109.34 1036.83,106.70 1037.50,106.70C1038.33,106.70 1039.17,110.63 1040.00,112.00C1041.00,113.65 1042.00,115.09 1043.00,116.00C1044.23,117.12 1045.47,117.67 1046.70,118.50ZM1079.00,118.50C1080.00,115.10 1081.00,108.30 1082.00,108.30C1083.27,108.30 1084.53,115.10 1085.80,118.50ZM1180.00,118.50C1181.33,117.00 1182.67,115.72 1184.00,114.00C1184.90,112.84 1185.80,110.00 1186.70,110.00C1187.47,110.00 1188.23,110.95 1189.00,112.50C1189.33,113.17 1189.67,116.50 1190.00,118.50ZM1292.50,118.50C1293.67,114.83 1294.83,108.31 1296.00,107.50C1297.00,106.80 1298.00,106.30 1299.00,106.30C1299.90,106.30 1300.80,111.88 1301.70,114.00C1302.13,115.02 1302.57,116.14 1303.00,116.70C1303.67,117.56 1304.33,117.90 1305.00,118.50ZM1329.00,118.50C1330.33,116.50 1331.67,112.50 1333.00,112.50C1334.67,112.50 1336.33,113.79 1338.00,115.00C1339.00,115.72 1340.00,117.33 1341.00,118.50ZM1529.50,118.50C1530.33,114.00 1531.17,107.50 1532.00,105.00C1532.80,102.60 1533.60,100.00 1534.40,100.00C1536.27,100.00 1538.13,100.00 1540.00,100.00C1541.00,100.00 1542.00,106.63 1543.00,110.00C1543.83,112.81 1544.67,115.67 1545.50,118.50Z" fill="#74b266" stroke="#74b266" stroke-width="0.6" stroke-linejoin="round"/><path d="M141.00,118.50C142.00,116.90 143.00,113.70 144.00,113.70C145.17,113.70 146.33,116.90 147.50,118.50ZM135.00,118.50C135.67,118.17 136.33,117.50 137.00,117.50C137.67,117.50 138.33,118.17 139.00,118.50ZM409.00,118.50C409.60,117.50 410.20,115.50 410.80,115.50C411.53,115.50 412.27,117.50 413.00,118.50ZM419.50,118.50C420.23,117.33 420.97,115.00 421.70,115.00C422.47,115.00 423.23,117.33 424.00,118.50ZM424.00,118.50C424.60,117.83 425.20,116.50 425.80,116.50C426.53,116.50 427.27,117.83 428.00,118.50ZM718.00,118.50C719.33,115.67 720.67,112.85 722.00,110.00C723.17,107.51 724.33,102.50 725.50,102.50C726.67,102.50 727.83,107.34 729.00,110.00C730.17,112.66 731.33,115.67 732.50,118.50ZM764.00,118.50C765.00,117.33 766.00,116.02 767.00,115.00C768.10,113.87 769.20,112.00 770.30,112.00C771.20,112.00 772.10,113.76 773.00,115.00C773.67,115.92 774.33,117.33 775.00,118.50ZM861.70,118.50C864.47,117.83 867.23,117.23 870.00,116.50C871.17,116.19 872.33,115.50 873.50,115.50C874.33,115.50 875.17,117.50 876.00,118.50ZM1024.00,118.50C1025.33,117.83 1026.67,116.50 1028.00,116.50C1029.67,116.50 1031.33,117.83 1033.00,118.50ZM1086.70,118.50C1087.80,116.23 1088.90,111.70 1090.00,111.70C1091.67,111.70 1093.33,115.00 1095.00,115.00C1096.93,115.00 1098.87,106.30 1100.80,106.30C1102.77,106.30 1104.73,112.43 1106.70,114.00C1107.80,114.88 1108.90,115.23 1110.00,116.00C1111.00,116.70 1112.00,117.67 1113.00,118.50ZM1138.00,118.50C1139.50,117.00 1141.00,114.00 1142.50,114.00C1143.67,114.00 1144.83,117.00 1146.00,118.50ZM1191.70,118.50C1193.37,117.33 1195.03,116.37 1196.70,115.00C1198.37,113.63 1200.03,110.00 1201.70,110.00C1202.80,110.00 1203.90,112.52 1205.00,114.00C1206.00,115.34 1207.00,117.00 1208.00,118.50ZM1235.00,118.50C1236.33,116.33 1237.67,112.00 1239.00,112.00C1240.67,112.00 1242.33,113.08 1244.00,114.00C1245.67,114.92 1247.33,117.00 1249.00,118.50ZM1299.00,118.50C1300.33,117.67 1301.67,116.41 1303.00,116.00C1306.67,114.87 1310.33,114.66 1314.00,114.00C1316.83,113.49 1319.67,112.50 1322.50,112.50C1323.90,112.50 1325.30,113.19 1326.70,114.00C1327.80,114.64 1328.90,117.00 1330.00,118.50Z" fill="#4a90e2" stroke="#4a90e2" stroke-width="0.6" stroke-linejoin="round"/><rect x="410.0" y="126.0" width="15.5" height="3.3" fill="#f8e7c0"/><rect x="423.5" y="126.0" width="2.0" height="3.3" fill="#efc457"/><rect x="409.0" y="130.7" width="15.3" height="3.3" fill="#ded5f8"/><rect x="422.0" y="130.7" width="2.3" height="3.3" fill="#8f6fe6"/></g><rect x="424.2" y="126.0" width="1.3" height="3.3" fill="#e2bf6c"/><rect x="404.3" y="50" width="5.4" height="18.2" rx="1" fill="#fff"/><rect x="405.2" y="50.5" width="3.6" height="17" fill="#999"/><rect x="421.3" y="50" width="5.4" height="18.2" rx="1" fill="#fff"/><rect x="422.2" y="50.5" width="3.6" height="17" fill="#999"/></svg>
<div id="ovb" class="abs"></div>
<div id="ruler" class="abs"></div>
<div class="tl" style="left:862px;top:150px;color:#ccc">556.5 ms</div>
<div id="mt" class="abs"><span style="padding-left:4px">Main Thread</span></div>
<div id="fc">
<div class="b e" style="left:111.0px;top:180.10px;width:11.3px;background:#9b7fe6;"></div>
<div class="b" style="left:131.0px;top:180.10px;width:943.0px;background:#efc457;letter-spacing:0px;">Event (mouseout)</div>
<div class="b" style="left:1077.4px;top:180.10px;width:128.6px;background:#efc457;letter-spacing:-0.1px;">Event (mouseover)</div>
<div class="b" style="left:1208.6px;top:180.10px;width:75.2px;background:#efc457;letter-spacing:0px;">Event…move)</div>
<div class="b" style="left:1391.2px;top:180.10px;width:33.1px;background:#9b7fe6;letter-spacing:-0.05px;">R…e</div>
<div class="b" style="left:1529.6px;top:180.10px;width:70.7px;background:#9b7fe6;letter-spacing:-0.05px;">Updat…Tree</div>
<div class="b e" style="left:1600.5px;top:180.10px;width:11.5px;background:#74b266;"></div>
<div class="b e" style="left:1657.8px;top:180.10px;width:5.0px;background:#6ea1e2;"></div>
<div class="b e" style="left:1747.0px;top:180.10px;width:1.0px;background:#6ea1e2;"></div>
<div class="b" style="left:1766.0px;top:180.10px;width:34.0px;background:#6ea1e2;letter-spacing:-0.05px;">Fi…)</div>
<div class="b e" style="left:137.0px;top:196.06px;width:0.8px;background:#f5dc9c;"></div>
<div class="b e" style="left:138.7px;top:196.06px;width:2.3px;background:#efc457;"></div>
<div class="b" style="left:146.0px;top:196.06px;width:926.2px;background:#efc457;">Function Call</div>
<div class="b e" style="left:1080.0px;top:196.06px;width:2.3px;background:#efc457;"></div>
<div class="b" style="left:1084.5px;top:196.06px;width:94.5px;background:#efc457;">Function Call</div>
<div class="b" style="left:1181.4px;top:196.06px;width:22.6px;background:#efc457;letter-spacing:-0.05px;">F…</div>
<div class="b e" style="left:1211.2px;top:196.06px;width:3.9px;background:#efc457;"></div>
<div class="b e" style="left:1217.0px;top:196.06px;width:2.5px;background:#efc457;"></div>
<div class="b" style="left:1221.8px;top:196.06px;width:60.4px;background:#efc457;letter-spacing:-0.05px;">Func…Call</div>
<div class="b e" style="left:1770.0px;top:196.06px;width:2.0px;background:#6ea1e2;"></div>
<div class="b" style="left:154.0px;top:212.01px;width:918.0px;background:#ecddc6;">(anonymous function)</div>
<div class="b" style="left:154.0px;top:227.97px;width:918.0px;background:#ecddc6;">ca</div>
<div class="b" style="left:154.0px;top:243.92px;width:918.0px;background:#ecddc6;">ea</div>
<div class="b" style="left:154.0px;top:259.88px;width:918.0px;background:#baedf7;">s</div>
<div class="b" style="left:197.0px;top:275.83px;width:875.0px;background:#baedf7;">Object.assign.fire</div>
<div class="b" style="left:197.0px;top:291.78px;width:875.0px;background:#ecddc6;">ea</div>
<div class="b" style="left:197.0px;top:307.74px;width:875.0px;background:#e3baf7;">l.dispatchEvent</div>
<div class="b" style="left:197.0px;top:323.69px;width:875.0px;background:#e3baf7;">r</div>
<div class="b" style="left:197.0px;top:339.65px;width:875.0px;background:#e3baf7;">m.batchedUpdates</div>
<div class="b" style="left:197.0px;top:355.61px;width:875.0px;background:#e3baf7;">i.perform</div>
<div class="b" style="left:1103.5px;top:212.01px;width:75.5px;background:#ecddc6;letter-spacing:-0.05px;">(anony…tion)</div>
<div class="b" style="left:1103.5px;top:227.97px;width:75.5px;background:#ecddc6;">ca</div>
<div class="b" style="left:1103.5px;top:243.92px;width:75.5px;background:#ecddc6;">ea</div>
<div class="b" style="left:1103.5px;top:259.88px;width:75.5px;background:#baedf7;">s</div>
<div class="b" style="left:1103.5px;top:275.83px;width:75.5px;background:#baedf7;letter-spacing:-0.05px;">Object…n.fire</div>
<div class="b" style="left:1103.5px;top:291.78px;width:75.5px;background:#ecddc6;">ea</div>
<div class="b" style="left:1103.5px;top:307.74px;width:75.5px;background:#f7baed;">u</div>
<div class="b" style="left:1103.5px;top:323.69px;width:75.5px;background:#ecddc6;letter-spacing:-0.05px;">k.(ano…tion)</div>
<div class="b" style="left:1103.5px;top:339.65px;width:75.5px;background:#ecddc6;">k.inform</div>
<div class="b" style="left:1103.5px;top:355.61px;width:75.5px;background:#ecddc6;letter-spacing:-0.05px;">h.emi…dHold</div>
<div class="b e" style="left:1196.3px;top:212.01px;width:8.0px;background:#ecddc6;"></div>
<div class="b e" style="left:1196.3px;top:227.97px;width:8.0px;background:#ecddc6;"></div>
<div class="b e" style="left:1196.3px;top:243.92px;width:8.0px;background:#ecddc6;"></div>
<div class="b e" style="left:1196.3px;top:259.88px;width:8.0px;background:#baedf7;"></div>
<div class="b e" style="left:1196.3px;top:275.83px;width:8.0px;background:#baedf7;"></div>
<div class="b e" style="left:1196.3px;top:291.78px;width:8.0px;background:#ecddc6;"></div>
<div class="b e" style="left:1196.3px;top:307.74px;width:8.0px;background:#e3baf7;"></div>
<div class="b e" style="left:1196.3px;top:323.69px;width:8.0px;background:#e3baf7;"></div>
<div class="b e" style="left:1196.3px;top:339.65px;width:8.0px;background:#e3baf7;"></div>
<div class="b e" style="left:1196.3px;top:355.61px;width:8.0px;background:#e3baf7;"></div>
<div class="b e" style="left:1196.3px;top:371.56px;width:8.0px;background:#e3baf7;"></div>
<div class="b e" style="left:1196.3px;top:387.51px;width:8.0px;background:#e3baf7;"></div>
<div class="b e" style="left:1196.3px;top:403.47px;width:8.0px;background:#e3baf7;"></div>
<div class="b e" style="left:1196.3px;top:419.42px;width:8.0px;background:#e3baf7;"></div>
<div class="b e" style="left:1196.4px;top:435.38px;width:1.6px;background:#e3baf7;"></div>
<div class="b e" style="left:1199.0px;top:435.38px;width:5.0px;background:#e3baf7;"></div>
<div class="b" style="left:1232.0px;top:212.01px;width:21.8px;background:#ecddc6;letter-spacing:-0.05px;">(…</div>
<div class="b" style="left:1232.0px;top:227.97px;width:21.8px;background:#ecddc6;">ca</div>
<div class="b" style="left:1232.0px;top:243.92px;width:21.8px;background:#ecddc6;">ea</div>
<div class="b" style="left:1232.0px;top:259.88px;width:21.8px;background:#baedf7;">s</div>
<div class="b e" style="left:1232.0px;top:275.83px;width:21.8px;background:#baedf7;"></div>
<div class="b" style="left:1232.0px;top:291.78px;width:21.8px;background:#ecddc6;">ea</div>
<div class="b" style="left:1232.0px;top:307.74px;width:21.8px;background:#baedf7;">u</div>
<div class="b" style="left:1232.0px;top:323.69px;width:21.8px;background:#ecddc6;letter-spacing:-0.05px;">(…</div>
<div class="b" style="left:1232.0px;top:339.65px;width:21.8px;background:#ecddc6;letter-spacing:-0.05px;">f…</div>
<div class="b e" style="left:1232.0px;top:355.61px;width:1.0px;background:#f5dc9c;"></div>
<div class="b" style="left:197.0px;top:371.56px;width:212.1px;background:#e3baf7;">j</div>
<div class="b" style="left:197.0px;top:387.51px;width:212.1px;background:#e3baf7;">i.handleTopLevel</div>
<div class="b" style="left:197.0px;top:403.47px;width:77.6px;background:#e3baf7;letter-spacing:-0.05px;">n.pro…Queue</div>
<div class="b" style="left:197.0px;top:419.42px;width:77.6px;background:#e3baf7;">m</div>
<div class="b" style="left:197.0px;top:435.38px;width:77.6px;background:#e3baf7;">r</div>
<div class="b" style="left:197.0px;top:451.34px;width:77.6px;background:#e3baf7;">q</div>
<div class="b" style="left:197.0px;top:467.29px;width:77.6px;background:#e3baf7;">h</div>
<div class="b" style="left:197.0px;top:483.25px;width:77.6px;background:#ecddc6;">ea</div>
<div class="b" style="left:275.6px;top:403.47px;width:133.5px;background:#e3baf7;">h</div>
<div class="b" style="left:275.6px;top:419.42px;width:133.5px;background:#e3baf7;">n.processEventQueue</div>
<div class="b" style="left:275.6px;top:435.38px;width:133.5px;background:#e3baf7;">h</div>
<div class="b" style="left:275.6px;top:451.34px;width:133.5px;background:#e3baf7;">m</div>
<div class="b" style="left:275.6px;top:467.29px;width:133.5px;background:#e3baf7;">k</div>
<div class="b" style="left:275.6px;top:483.25px;width:133.5px;background:#e3baf7;">r</div>
<div class="b" style="left:275.6px;top:499.20px;width:133.5px;background:#e3baf7;">q</div>
<div class="b" style="left:275.6px;top:515.15px;width:133.5px;background:#e3baf7;">h</div>
<div class="b" style="left:275.6px;top:531.11px;width:133.5px;background:#ecddc6;">ea</div>
<div class="b" style="left:275.6px;top:547.06px;width:133.5px;background:#e3baf7;">n.onMouseEnter</div>
<div class="b" style="left:275.6px;top:563.02px;width:133.5px;background:#ecddc6;">oa.loadModules</div>
<div class="b" style="left:275.6px;top:578.98px;width:133.5px;background:#ecddc6;">ka</div>
<div class="b" style="left:275.6px;top:594.93px;width:133.5px;background:#ecddc6;">oa.loadResources</div>
<div class="b" style="left:241.2px;top:499.20px;width:33.4px;background:#e3baf7;letter-spacing:-0.05px;">n.…r</div>
<div class="b" style="left:241.2px;top:515.15px;width:33.4px;background:#ecddc6;letter-spacing:-0.05px;">oa…s</div>
<div class="b" style="left:241.2px;top:531.11px;width:33.4px;background:#ecddc6;">ka</div>
<div class="b" style="left:241.2px;top:547.06px;width:33.4px;background:#ecddc6;letter-spacing:-0.05px;">oa…s</div>
<div class="b" style="left:241.2px;top:563.02px;width:33.4px;background:#ecddc6;">ia</div>
<div class="b" style="left:275.6px;top:610.88px;width:22.1px;background:#6ea1e2;letter-spacing:-0.05px;">S…</div>
<div class="b" style="left:318.0px;top:610.88px;width:44.5px;background:#6ea1e2;letter-spacing:-0.05px;">Sen…s)</div>
<div class="b sel" style="left:619.0px;top:371.56px;width:453.0px;">i.closeAll</div>
<div class="b" style="left:619.0px;top:387.51px;width:453.0px;background:#e3baf7;">u</div>
<div class="b" style="left:619.0px;top:403.47px;width:453.0px;background:#e3baf7;">c.perform</div>
<div class="b" style="left:619.0px;top:419.42px;width:453.0px;background:#e3baf7;">i.perform</div>
<div class="b" style="left:619.0px;top:435.38px;width:453.0px;background:#e3baf7;">i.perform</div>
<div class="b" style="left:619.0px;top:451.34px;width:453.0px;background:#e3baf7;">t</div>
<div class="b" style="left:692.0px;top:467.29px;width:380.0px;background:#e3baf7;">i.performUpdateIfNecessary</div>
<div class="b" style="left:692.0px;top:483.25px;width:380.0px;background:#e3baf7;">m.performUpdateIfNecessary</div>
<div class="b" style="left:692.0px;top:499.20px;width:380.0px;background:#e3baf7;">m.updateComponent</div>
<div class="b" style="left:692.0px;top:515.15px;width:380.0px;background:#e3baf7;">m._performComponentUpdate</div>
<div class="b" style="left:692.0px;top:531.11px;width:380.0px;background:#e3baf7;">m._updateRenderedComponent</div>
<div class="b" style="left:692.0px;top:547.06px;width:245.0px;background:#e3baf7;">m._renderValidatedComponent</div>
<div class="b" style="left:949.0px;top:547.06px;width:123.0px;background:#e3baf7;">i.receiveComponent</div>
<div class="b" style="left:692.0px;top:563.02px;width:245.0px;background:#e3baf7;">m._renderValidatedCo…ithoutOwnerOrContext</div>
<div class="b" style="left:692.0px;top:578.98px;width:245.0px;background:#e3baf7;">n.render</div>
<div class="b" style="left:692.0px;top:594.93px;width:43.2px;background:#baedf7;">m._</div>
<div class="b" style="left:692.0px;top:610.88px;width:43.2px;background:#baedf7;">j</div>
<div class="b" style="left:834.6px;top:594.93px;width:102.4px;background:#e3baf7;">n.renderToken</div>
<div class="b" style="left:834.6px;top:610.88px;width:52.6px;background:#e3baf7;letter-spacing:-0.05px;">h.g…URI</div>
<div class="b" style="left:900.0px;top:610.88px;width:37.0px;background:#e3baf7;letter-spacing:-0.05px;">l.…nt</div>
<div class="b" style="left:834.6px;top:626.84px;width:52.6px;background:#f7baed;">i.getURI</div>
<div class="b" style="left:834.6px;top:642.79px;width:52.6px;background:#baedf7;">k</div>
<div class="b" style="left:834.6px;top:658.75px;width:52.6px;background:#baedf7;">k</div>
<div class="b" style="left:834.6px;top:674.71px;width:52.6px;background:#baedf7;">i.parse</div>
<div class="b" style="left:1008.0px;top:563.02px;width:46.0px;background:#e3baf7;letter-spacing:-0.05px;">ka.…nt</div>
<div class="b" style="left:1008.0px;top:578.98px;width:46.0px;background:#e3baf7;letter-spacing:-0.05px;">ka.…en</div>
<div class="b" style="left:1008.0px;top:594.93px;width:46.0px;background:#e3baf7;letter-spacing:-0.05px;">p.…en</div>
<div class="b" style="left:1008.0px;top:610.88px;width:46.0px;background:#e3baf7;letter-spacing:-0.05px;">p.…en</div>
<div class="b" style="left:1008.0px;top:626.84px;width:46.0px;background:#e3baf7;letter-spacing:-0.05px;">p.…en</div>
<div class="b" style="left:1008.0px;top:642.79px;width:46.0px;background:#e3baf7;letter-spacing:-0.05px;">i.u…ren</div>
<div class="b" style="left:1008.0px;top:658.75px;width:46.0px;background:#e3baf7;letter-spacing:-0.05px;">i.r…ent</div>
<div class="b" style="left:1008.0px;top:674.71px;width:30.0px;background:#e3baf7;letter-spacing:-0.05px;">k…t</div>
<div class="b" style="left:1008.0px;top:690.66px;width:30.0px;background:#e3baf7;letter-spacing:-0.05px;">k…n</div>
<div class="b" style="left:1008.0px;top:706.62px;width:30.0px;background:#e3baf7;letter-spacing:-0.05px;">p…n</div>
<div class="b" style="left:1008.0px;top:722.57px;width:30.0px;background:#e3baf7;letter-spacing:-0.05px;">p…n</div>
<div class="b" style="left:1008.0px;top:738.52px;width:30.0px;background:#e3baf7;letter-spacing:-0.05px;">p…n</div>
<div class="b" style="left:1008.0px;top:754.48px;width:30.0px;background:#e3baf7;letter-spacing:-0.05px;">i.…n</div>
<div class="b" style="left:1008.0px;top:770.44px;width:30.0px;background:#e3baf7;letter-spacing:-0.05px;">i.…t</div>
<div class="b" style="left:1008.0px;top:786.39px;width:30.0px;background:#e3baf7;letter-spacing:-0.05px;">k…t</div>
<div class="b" style="left:1008.0px;top:802.35px;width:30.0px;background:#e3baf7;letter-spacing:-0.05px;">k…s</div>
<div class="b" style="left:1008.0px;top:818.30px;width:30.0px;background:#e3baf7;letter-spacing:-0.05px;">m…</div>
<div class="b" style="left:1008.0px;top:834.25px;width:30.0px;background:#baedf7;letter-spacing:-0.05px;">k.…f</div>
<div class="b" style="left:1008.0px;top:850.21px;width:30.0px;background:#baedf7;">i</div>
<div class="b" style="left:1008.0px;top:866.17px;width:30.0px;background:#baedf7;">j</div>
<div class="b" style="left:1103.5px;top:371.56px;width:27.1px;background:#ecddc6;letter-spacing:-0.05px;">j…n</div>
<div class="b e" style="left:1132.0px;top:371.56px;width:18.0px;background:#ecddc6;"></div>
<div class="b" style="left:1151.2px;top:371.56px;width:27.8px;background:#ecddc6;letter-spacing:-0.05px;">j…n</div>
<div class="b e" style="left:1132.0px;top:387.51px;width:18.0px;background:#ecddc6;"></div>
<div class="b" style="left:1151.2px;top:387.51px;width:27.8px;background:#ecddc6;">ea</div>
<div class="b" style="left:1132.0px;top:403.47px;width:18.0px;background:#ecddc6;">ea</div>
<div class="b" style="left:1151.2px;top:403.47px;width:27.8px;background:#ecddc6;letter-spacing:-0.05px;">k…)</div>
<div class="b e" style="left:1132.0px;top:419.42px;width:18.0px;background:#ecddc6;"></div>
<div class="b" style="left:1151.2px;top:419.42px;width:27.8px;background:#ecddc6;letter-spacing:-0.05px;">k…</div>
<div class="b e" style="left:1132.0px;top:435.38px;width:18.0px;background:#ecddc6;"></div>
<div class="b" style="left:1151.2px;top:435.38px;width:27.8px;background:#ecddc6;">ea</div>
<div class="b" style="left:1132.0px;top:451.34px;width:18.0px;background:#ecddc6;">ea</div>
<div class="b" style="left:1151.2px;top:451.34px;width:27.8px;background:#baedf7;">o</div>
<div class="b" style="left:1132.0px;top:467.29px;width:18.0px;background:#baedf7;">o</div>
<div class="b" style="left:1151.2px;top:467.29px;width:27.8px;background:#baedf7;">m</div>
<div class="b e" style="left:1132.0px;top:483.25px;width:18.0px;background:#baedf7;"></div>
<div class="b" style="left:1151.2px;top:483.25px;width:27.8px;background:#ecddc6;letter-spacing:-0.05px;">(…)</div>
<div class="b e" style="left:1132.0px;top:499.20px;width:18.0px;background:#c4b6f2;"></div>
<div class="b" style="left:1151.2px;top:499.20px;width:27.8px;background:#ecddc6;">j.set</div>
<div class="b e" style="left:1132.0px;top:515.15px;width:1.0px;background:#f5dc9c;"></div>
<div class="b e" style="left:1150.0px;top:515.15px;width:0.8px;background:#faedcc;"></div>
<div class="b e" style="left:1150.0px;top:531.11px;width:1.0px;background:#f5dc9c;"></div>
</div>
<div class="gl" style="left:69.8px"></div>
<div class="tl" style="left:6.8px">1046 ms</div>
<div class="gl" style="left:155.3px"></div>
<div class="tl" style="left:92.3px">1048 ms</div>
<div class="gl" style="left:240.8px"></div>
<div class="tl" style="left:177.8px">1050 ms</div>
<div class="gl" style="left:326.3px"></div>
<div class="tl" style="left:263.3px">1052 ms</div>
<div class="gl" style="left:411.8px"></div>
<div class="tl" style="left:348.8px">1054 ms</div>
<div class="gl" style="left:497.3px"></div>
<div class="tl" style="left:434.3px">1056 ms</div>
<div class="gl" style="left:582.8px"></div>
<div class="tl" style="left:519.8px">1058 ms</div>
<div class="gl" style="left:668.3px"></div>
<div class="tl" style="left:605.3px">1060 ms</div>
<div class="gl" style="left:753.8px"></div>
<div class="tl" style="left:690.8px">1062 ms</div>
<div class="gl" style="left:839.3px"></div>
<div class="tl" style="left:776.3px">1064 ms</div>
<div class="gl" style="left:924.8px"></div>
<div class="tl" style="left:861.8px">1066 ms</div>
<div class="gl" style="left:1010.3px"></div>
<div class="tl" style="left:947.3px">1068 ms</div>
<div class="gl" style="left:1095.8px"></div>
<div class="tl" style="left:1032.8px">1070 ms</div>
<div class="gl" style="left:1181.3px"></div>
<div class="tl" style="left:1118.3px">1072 ms</div>
<div class="gl" style="left:1266.8px"></div>
<div class="tl" style="left:1203.8px">1074 ms</div>
<div class="gl" style="left:1352.3px"></div>
<div class="tl" style="left:1289.3px">1076 ms</div>
<div class="gl" style="left:1437.8px"></div>
<div class="tl" style="left:1374.8px">1078 ms</div>
<div class="gl" style="left:1523.3px"></div>
<div class="tl" style="left:1460.3px">1080 ms</div>
<div class="gl" style="left:1608.8px"></div>
<div class="tl" style="left:1545.8px">1082 ms</div>
<div class="gl" style="left:1694.3px"></div>
<div class="tl" style="left:1631.3px">1084 ms</div>
<div class="gl" style="left:1779.8px"></div>
<div class="tl" style="left:1716.8px">1086 ms</div>
<div id="fcend" class="abs"></div>
<div id="btabs" class="abs">
<div class="tab" style="left:5px;top:2px;width:61px;height:23px"></div>
<span class="t" style="left:9px;top:7px;color:#333">Summary</span>
<span class="t" style="left:70px;top:7px">Call Tree</span>
<span class="t" style="left:128px;top:7px;letter-spacing:0.35px">Bottom-Up</span>
</div>
<div class="abs" style="left:0;top:940px;width:1800px;height:3px;background:#f6f6f6"></div><div class="abs" style="left:159px;top:940.5px;width:1px;height:2.5px;background:#ddd"></div>
<div id="drawer" class="abs">
<svg class="abs" style="left:12.5px;top:3.7px" width="6" height="16" viewBox="0 0 6 16"><circle cx="3" cy="3" r="1.2" fill="#555"/><circle cx="3" cy="8" r="1.2" fill="#555"/><circle cx="3" cy="13" r="1.2" fill="#555"/></svg>
<div class="tab" style="left:29px;top:2px;width:53px;height:23px"></div>
<span class="t" style="left:34px;top:6px;color:#333">Console</span>
</div>
<div id="ctool" class="abs">
<svg class="abs" style="left:8px;top:5px" width="15" height="15" viewBox="0 0 15 15"><circle cx="7.5" cy="7.5" r="5.2" fill="none" stroke="#444" stroke-width="1.6"/><path d="M3.9 3.9L11.1 11.1" stroke="#444" stroke-width="1.6"/></svg>
<svg class="abs" style="left:33px;top:6px" width="16" height="13" viewBox="0 0 16 13"><path d="M1.8 1.6H14.2L9.6 7V11.4H6.4V7Z" fill="#bbb" stroke="#444" stroke-width="1.5" stroke-linejoin="round"/></svg>
<span class="t" style="left:60px;top:6px;color:#333;letter-spacing:0.45px">&lt;top frame&gt;</span>
<svg class="abs" style="left:234px;top:9px" width="9" height="8" viewBox="0 0 9 8"><path d="M0.3 0.5H8.3L4.3 7.2Z" fill="#333"/></svg>
<div class="cb" style="left:254px;top:7px"></div><span class="t" style="left:268px;top:6px;color:#444">Preserve log</span>
</div>
<svg class="abs" style="left:8px;top:998px" width="8" height="12" viewBox="0 0 8 12"><path d="M1.6 2.2L4.9 5.5L1.6 8.8" fill="none" stroke="#3b7de8" stroke-width="1.4"/></svg>
</body></html>
